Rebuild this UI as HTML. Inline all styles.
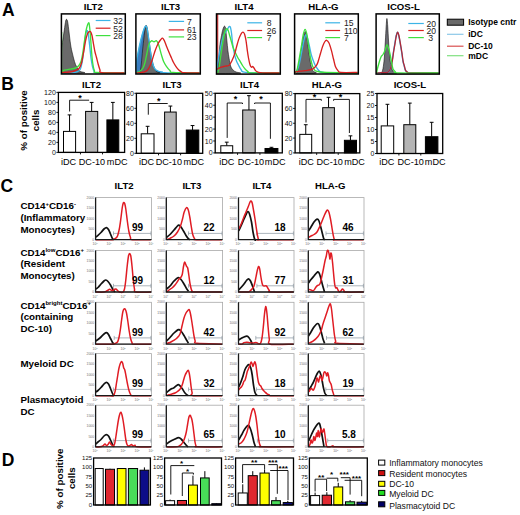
<!DOCTYPE html>
<html><head><meta charset="utf-8"><title>Figure</title>
<style>html,body{margin:0;padding:0;background:#fff;width:520px;height:515px;overflow:hidden}svg{display:block;font-family:"Liberation Sans", sans-serif}</style>
</head><body>
<svg width="520" height="515" viewBox="0 0 520 515" font-family='"Liberation Sans", sans-serif'><defs><clipPath id="clipA0"><rect x="61.4" y="13.9" width="63.9" height="60.1"/></clipPath><clipPath id="clipA1"><rect x="135.9" y="13.9" width="64.4" height="60.1"/></clipPath><clipPath id="clipA2"><rect x="216.5" y="13.9" width="63.8" height="60.2"/></clipPath><clipPath id="clipA3"><rect x="294.6" y="13.9" width="63.7" height="60.1"/></clipPath><clipPath id="clipA4"><rect x="376.1" y="13.9" width="63.2" height="60.2"/></clipPath></defs><rect width="520" height="515" fill="#fff"/><text x="2" y="15.7" font-size="17.5" font-weight="bold">A</text>
<text x="1.2" y="90.1" font-size="17.5" font-weight="bold">B</text>
<text x="0.5" y="191.6" font-size="17.5" font-weight="bold">C</text>
<text x="1.8" y="466.3" font-size="17.5" font-weight="bold">D</text>
<text x="93.3" y="9.5" font-size="9.6" font-weight="bold" text-anchor="middle">ILT2</text>
<text x="170.6" y="9.5" font-size="9.6" font-weight="bold" text-anchor="middle">ILT3</text>
<text x="244" y="9.5" font-size="9.6" font-weight="bold" text-anchor="middle">ILT4</text>
<text x="323.4" y="9.5" font-size="9.6" font-weight="bold" text-anchor="middle">HLA-G</text>
<text x="403.5" y="9.5" font-size="9.6" font-weight="bold" text-anchor="middle">ICOS-L</text>
<g clip-path="url(#clipA0)">
<path d="M61.3,73.5 C61.35,69.25 61.35,53.58 61.6,48 C61.85,42.42 62.35,43 62.8,40 C63.25,37 63.82,33.17 64.3,30 C64.78,26.83 65.3,22.77 65.7,21 C66.1,19.23 66.37,19.23 66.7,19.4 C67.03,19.57 67.32,19.9 67.7,22 C68.08,24.1 68.53,28.33 69,32 C69.47,35.67 70.03,40.83 70.5,44 C70.97,47.17 71.3,48.67 71.8,51 C72.3,53.33 72.88,55.75 73.5,58 C74.12,60.25 74.75,62.67 75.5,64.5 C76.25,66.33 77.17,67.83 78,69 C78.83,70.17 79.5,70.83 80.5,71.5 C81.5,72.17 87.2,72.67 84,73 C80.8,73.33 65.08,73.42 61.3,73.5 Z" fill="#6a6a6a" stroke="#111" stroke-width="0.6"/>
<path d="M61.5,73 C62.92,72.93 67.42,72.8 70,72.6 C72.58,72.4 75.3,72.32 77,71.8 C78.7,71.28 79.33,71.13 80.2,69.5 C81.07,67.87 81.57,65.58 82.2,62 C82.83,58.42 83.43,52.5 84,48 C84.57,43.5 85.12,37.93 85.6,35 C86.08,32.07 86.47,30.65 86.9,30.4 C87.33,30.15 87.75,31.07 88.2,33.5 C88.65,35.93 89.13,40.92 89.6,45 C90.07,49.08 90.5,54.33 91,58 C91.5,61.67 92.05,64.78 92.6,67 C93.15,69.22 93.57,70.37 94.3,71.3 C95.03,72.23 91.97,72.32 97,72.6 C102.03,72.88 119.92,72.93 124.5,73" fill="none" stroke="#3cb4e6" stroke-width="1.35" stroke-linejoin="round"/>
<path d="M61.6,32 C61.6,38.33 61.2,63.63 61.6,70 C62,76.37 62.6,70.33 64,70.2 C65.4,70.07 68.08,69.57 70,69.2 C71.92,68.83 74.13,68.48 75.5,68 C76.87,67.52 77.32,67.3 78.2,66.3 C79.08,65.3 80.03,64.22 80.8,62 C81.57,59.78 82.17,56.67 82.8,53 C83.43,49.33 84,44 84.6,40 C85.2,36 85.73,31.87 86.4,29 C87.07,26.13 88.07,23.13 88.6,22.8 C89.13,22.47 89.27,24.47 89.6,27 C89.93,29.53 90.27,33.83 90.6,38 C90.93,42.17 91.25,47.83 91.6,52 C91.95,56.17 92.23,59.9 92.7,63 C93.17,66.1 93.68,69.02 94.4,70.6 C95.12,72.18 91.98,72.1 97,72.5 C102.02,72.9 119.92,72.92 124.5,73" fill="none" stroke="#3ee03e" stroke-width="1.35" stroke-linejoin="round"/>
<path d="M62,72.5 C63.33,72.42 67.75,72.33 70,72 C72.25,71.67 74,71.08 75.5,70.5 C77,69.92 78,69.75 79,68.5 C80,67.25 80.75,65.58 81.5,63 C82.25,60.42 82.83,56.67 83.5,53 C84.17,49.33 84.85,44.17 85.5,41 C86.15,37.83 86.82,35.53 87.4,34 C87.98,32.47 88.48,32.2 89,31.8 C89.52,31.4 90,30.98 90.5,31.6 C91,32.22 91.5,33.43 92,35.5 C92.5,37.57 93,41.25 93.5,44 C94,46.75 94.5,49.75 95,52 C95.5,54.25 96,55.58 96.5,57.5 C97,59.42 97.42,61.42 98,63.5 C98.58,65.58 99.33,68.48 100,70 C100.67,71.52 97.92,72.1 102,72.6 C106.08,73.1 120.75,72.93 124.5,73" fill="none" stroke="#d82020" stroke-width="1.35" stroke-linejoin="round"/>
</g>
<rect x="61.4" y="13.9" width="63.9" height="60.1" fill="none" stroke="#000" stroke-width="1.5"/>
<path d="M95.7,20.5 H110.5" stroke="#3cb4e6" stroke-width="1.2"/>
<text x="113.2" y="23.9" font-size="8.6" fill="#222">32</text>
<path d="M95.7,28.2 H110.5" stroke="#d82020" stroke-width="1.2"/>
<text x="113.2" y="31.6" font-size="8.6" fill="#222">52</text>
<path d="M95.7,35.6 H110.5" stroke="#3ee03e" stroke-width="1.2"/>
<text x="113.2" y="39" font-size="8.6" fill="#222">28</text>
<g clip-path="url(#clipA1)">
<path d="M136.3,73.5 C136.35,71.25 136.25,63.92 136.6,60 C136.95,56.08 137.7,53.5 138.4,50 C139.1,46.5 139.98,42.33 140.8,39 C141.62,35.67 142.5,32.25 143.3,30 C144.1,27.75 144.95,25.83 145.6,25.5 C146.25,25.17 146.63,25.58 147.2,28 C147.77,30.42 148.4,35.67 149,40 C149.6,44.33 150.17,50 150.8,54 C151.43,58 152.1,61.5 152.8,64 C153.5,66.5 154.13,67.83 155,69 C155.87,70.17 156.83,70.5 158,71 C159.17,71.5 160.5,71.7 162,72 C163.5,72.3 165.67,72.55 167,72.8 C168.33,73.05 169.5,73.38 170,73.5 Z" fill="#3a7cc0" stroke="none"/>
<path d="M140,73.5 C140.22,71.92 140.87,67.92 141.3,64 C141.73,60.08 142.17,54.33 142.6,50 C143.03,45.67 143.48,41.5 143.9,38 C144.32,34.5 144.75,31.08 145.1,29 C145.45,26.92 145.65,25.67 146,25.5 C146.35,25.33 146.77,25.92 147.2,28 C147.63,30.08 148.08,34.42 148.6,38 C149.12,41.58 149.73,45.92 150.3,49.5 C150.87,53.08 151.38,56.58 152,59.5 C152.62,62.42 153.3,65.03 154,67 C154.7,68.97 155.37,70.3 156.2,71.3 C157.03,72.3 161.7,72.63 159,73 C156.3,73.37 143.17,73.42 140,73.5 Z" fill="#6a6a6a" stroke="#111" stroke-width="0.6"/>
<path d="M136.3,73 C136.35,71 136.25,64.67 136.6,61 C136.95,57.33 137.7,54.5 138.4,51 C139.1,47.5 139.98,43.33 140.8,40 C141.62,36.67 142.5,33.3 143.3,31 C144.1,28.7 144.95,26.53 145.6,26.2 C146.25,25.87 146.63,26.53 147.2,29 C147.77,31.47 148.4,36.83 149,41 C149.6,45.17 150.17,50.17 150.8,54 C151.43,57.83 152.1,61.5 152.8,64 C153.5,66.5 154.13,67.83 155,69 C155.87,70.17 156.83,70.5 158,71 C159.17,71.5 160.5,71.7 162,72 C163.5,72.3 160.75,72.63 167,72.8 C173.25,72.97 194.08,72.97 199.5,73" fill="none" stroke="#3cb4e6" stroke-width="1.35" stroke-linejoin="round"/>
<path d="M136.5,72.6 C137.08,72.37 138.92,71.97 140,71.2 C141.08,70.43 142.17,69.45 143,68 C143.83,66.55 144.33,65 145,62.5 C145.67,60 146.33,56.08 147,53 C147.67,49.92 148.25,46.03 149,44 C149.75,41.97 150.67,41.17 151.5,40.8 C152.33,40.43 153.17,41.82 154,41.8 C154.83,41.78 155.72,40.17 156.5,40.7 C157.28,41.23 157.9,42.72 158.7,45 C159.5,47.28 160.48,51.65 161.3,54.4 C162.12,57.15 162.72,59.47 163.6,61.5 C164.48,63.53 165.53,65.08 166.6,66.6 C167.67,68.12 168.87,69.62 170,70.6 C171.13,71.58 168.48,72.1 173.4,72.5 C178.32,72.9 195.15,72.92 199.5,73" fill="none" stroke="#3ee03e" stroke-width="1.35" stroke-linejoin="round"/>
<path d="M136.5,73 C137.72,72.87 141.88,72.78 143.8,72.2 C145.72,71.62 146.72,71.2 148,69.5 C149.28,67.8 150.3,65.18 151.5,62 C152.7,58.82 154.05,53.57 155.2,50.4 C156.35,47.23 157.5,44.77 158.4,43 C159.3,41.23 159.9,40.6 160.6,39.8 C161.3,39 161.95,38 162.6,38.2 C163.25,38.4 163.83,39.62 164.5,41 C165.17,42.38 165.8,44.5 166.6,46.5 C167.4,48.5 168.48,51.08 169.3,53 C170.12,54.92 170.82,56.45 171.5,58 C172.18,59.55 172.65,60.87 173.4,62.3 C174.15,63.73 175.1,65.33 176,66.6 C176.9,67.87 177.97,69.07 178.8,69.9 C179.63,70.73 180.22,71.15 181,71.6 C181.78,72.05 180.42,72.37 183.5,72.6 C186.58,72.83 196.83,72.93 199.5,73" fill="none" stroke="#d82020" stroke-width="1.35" stroke-linejoin="round"/>
</g>
<rect x="135.9" y="13.9" width="64.4" height="60.1" fill="none" stroke="#000" stroke-width="1.5"/>
<path d="M168.7,21.4 H184.1" stroke="#3cb4e6" stroke-width="1.2"/>
<text x="187" y="24.8" font-size="8.6" fill="#222">7</text>
<path d="M168.7,29.9 H184.1" stroke="#d82020" stroke-width="1.2"/>
<text x="187" y="33.3" font-size="8.6" fill="#222">61</text>
<path d="M168.7,36.9 H184.1" stroke="#3ee03e" stroke-width="1.2"/>
<text x="187" y="40.3" font-size="8.6" fill="#222">23</text>
<g clip-path="url(#clipA2)">
<path d="M217.3,73.5 C217.52,71.58 218.18,66.58 218.6,62 C219.02,57.42 219.32,50.42 219.8,46 C220.28,41.58 220.97,38.33 221.5,35.5 C222.03,32.67 222.52,30.55 223,29 C223.48,27.45 223.97,26.28 224.4,26.2 C224.83,26.12 225.2,26.2 225.6,28.5 C226,30.8 226.42,36.33 226.8,40 C227.18,43.67 227.52,47.42 227.9,50.5 C228.28,53.58 228.65,55.92 229.1,58.5 C229.55,61.08 229.95,64.08 230.6,66 C231.25,67.92 232.1,69 233,70 C233.9,71 234.83,71.45 236,72 C237.17,72.55 243.12,73.05 240,73.3 C236.88,73.55 221.08,73.47 217.3,73.5 Z" fill="#6a6a6a" stroke="#111" stroke-width="0.6"/>
<path d="M217.7,14 V73.5" stroke="#d82020" stroke-width="1.1"/>
<path d="M217.2,73 C217.22,71.83 217,68.92 217.3,66 C217.6,63.08 218.38,58.92 219,55.5 C219.62,52.08 220.33,48.58 221,45.5 C221.67,42.42 222.33,39.08 223,37 C223.67,34.92 224.33,34.13 225,33 C225.67,31.87 226.4,31.17 227,30.2 C227.6,29.23 228.07,27.77 228.6,27.2 C229.13,26.63 229.72,25.83 230.2,26.8 C230.68,27.77 231.1,30.22 231.5,33 C231.9,35.78 232.1,39.93 232.6,43.5 C233.1,47.07 233.85,51.48 234.5,54.4 C235.15,57.32 235.82,59.2 236.5,61 C237.18,62.8 237.85,63.78 238.6,65.2 C239.35,66.62 240.1,68.33 241,69.5 C241.9,70.67 240.83,71.62 244,72.2 C247.17,72.78 254.08,72.87 260,73 C265.92,73.13 276.25,73 279.5,73" fill="none" stroke="#3cb4e6" stroke-width="1.35" stroke-linejoin="round"/>
<path d="M217.6,73 C217.83,72.17 218.45,71 219,68 C219.55,65 220.25,59.33 220.9,55 C221.55,50.67 222.25,45.83 222.9,42 C223.55,38.17 224.2,34.2 224.8,32 C225.4,29.8 225.97,29.13 226.5,28.8 C227.03,28.47 227.5,28.97 228,30 C228.5,31.03 228.98,33.25 229.5,35 C230.02,36.75 230.48,38.38 231.1,40.5 C231.72,42.62 232.38,45.45 233.2,47.7 C234.02,49.95 235.2,52.28 236,54 C236.8,55.72 237.33,56.82 238,58 C238.67,59.18 239.25,59.85 240,61.1 C240.75,62.35 241.62,64.15 242.5,65.5 C243.38,66.85 244.38,68.2 245.3,69.2 C246.22,70.2 247.1,70.9 248,71.5 C248.9,72.1 245.45,72.55 250.7,72.8 C255.95,73.05 274.7,72.97 279.5,73" fill="none" stroke="#3ee03e" stroke-width="1.35" stroke-linejoin="round"/>
<path d="M217.2,69.3 C217.67,69.02 218.7,68.12 220,67.6 C221.3,67.08 223.47,66.6 225,66.2 C226.53,65.8 228.03,66.15 229.2,65.2 C230.37,64.25 231.12,62.3 232,60.5 C232.88,58.7 233.75,56.65 234.5,54.4 C235.25,52.15 235.82,49.47 236.5,47 C237.18,44.53 237.95,41.57 238.6,39.6 C239.25,37.63 239.83,36.37 240.4,35.2 C240.97,34.03 241.52,33.1 242,32.6 C242.48,32.1 242.87,31.93 243.3,32.2 C243.73,32.47 244.15,32.82 244.6,34.2 C245.05,35.58 245.55,37.8 246,40.5 C246.45,43.2 246.88,47.48 247.3,50.4 C247.72,53.32 248.05,55.6 248.5,58 C248.95,60.4 249.52,63.25 250,64.8 C250.48,66.35 250.95,67.02 251.4,67.3 C251.85,67.58 252.27,66.38 252.7,66.5 C253.13,66.62 253.52,67.32 254,68 C254.48,68.68 255.03,69.95 255.6,70.6 C256.17,71.25 256.67,71.57 257.4,71.9 C258.13,72.23 258.73,72.42 260,72.6 C261.27,72.78 261.75,72.93 265,73 C268.25,73.07 277.08,73 279.5,73" fill="none" stroke="#d82020" stroke-width="1.35" stroke-linejoin="round"/>
</g>
<rect x="216.5" y="13.9" width="63.8" height="60.2" fill="none" stroke="#000" stroke-width="1.5"/>
<path d="M247.3,22.8 H262.1" stroke="#3cb4e6" stroke-width="1.2"/>
<text x="266.8" y="26.2" font-size="8.6" fill="#222">8</text>
<path d="M247.3,30.5 H262.1" stroke="#d82020" stroke-width="1.2"/>
<text x="266.8" y="33.9" font-size="8.6" fill="#222">26</text>
<path d="M247.3,37.6 H262.1" stroke="#3ee03e" stroke-width="1.2"/>
<text x="266.8" y="41" font-size="8.6" fill="#222">7</text>
<g clip-path="url(#clipA3)">
<path d="M296,73.5 C296.28,72.92 297.07,72.5 297.7,70 C298.33,67.5 299.12,62.42 299.8,58.5 C300.48,54.58 301.18,50.08 301.8,46.5 C302.42,42.92 302.95,39.5 303.5,37 C304.05,34.5 304.58,31.75 305.1,31.5 C305.62,31.25 306.1,33 306.6,35.5 C307.1,38 307.6,42.83 308.1,46.5 C308.6,50.17 309.08,54.2 309.6,57.5 C310.12,60.8 310.63,64.05 311.2,66.3 C311.77,68.55 312.28,69.85 313,71 C313.72,72.15 318.33,72.78 315.5,73.2 C312.67,73.62 299.25,73.45 296,73.5 Z" fill="#6a6a6a" stroke="#111" stroke-width="0.6"/>
<path d="M295.2,72.5 C295.5,72.25 296.28,72.58 297,71 C297.72,69.42 298.67,66.5 299.5,63 C300.33,59.5 301.25,53.83 302,50 C302.75,46.17 303.37,42.52 304,40 C304.63,37.48 305.22,35.23 305.8,34.9 C306.38,34.57 306.88,36.07 307.5,38 C308.12,39.93 308.88,43.77 309.5,46.5 C310.12,49.23 310.58,52.07 311.2,54.4 C311.82,56.73 312.53,58.7 313.2,60.5 C313.87,62.3 314.47,63.78 315.2,65.2 C315.93,66.62 316.7,67.87 317.6,69 C318.5,70.13 318.53,71.33 320.6,72 C322.67,72.67 323.83,72.83 330,73 C336.17,73.17 353,73 357.6,73" fill="none" stroke="#3cb4e6" stroke-width="1.35" stroke-linejoin="round"/>
<path d="M295.2,72.8 C295.5,72.33 296.37,72.13 297,70 C297.63,67.87 298.27,64 299,60 C299.73,56 300.67,50.33 301.4,46 C302.13,41.67 302.78,36.77 303.4,34 C304.02,31.23 304.53,29.4 305.1,29.4 C305.67,29.4 306.23,31.4 306.8,34 C307.37,36.6 307.88,41 308.5,45 C309.12,49 309.83,54.5 310.5,58 C311.17,61.5 311.75,63.92 312.5,66 C313.25,68.08 313.75,69.5 315,70.5 C316.25,71.5 315.83,71.62 320,72 C324.17,72.38 333.73,72.63 340,72.8 C346.27,72.97 354.67,72.97 357.6,73" fill="none" stroke="#3ee03e" stroke-width="1.35" stroke-linejoin="round"/>
<path d="M295.2,72.4 C295.5,72.27 295.37,71.9 297,71.6 C298.63,71.3 302.42,71 305,70.6 C307.58,70.2 310.57,70.1 312.5,69.2 C314.43,68.3 315.58,66.73 316.6,65.2 C317.62,63.67 317.93,62.03 318.6,60 C319.27,57.97 319.93,55.25 320.6,53 C321.27,50.75 321.93,48.33 322.6,46.5 C323.27,44.67 323.92,43.03 324.6,42 C325.28,40.97 325.97,40.13 326.7,40.3 C327.43,40.47 328.22,41.32 329,43 C329.78,44.68 330.65,47.73 331.4,50.4 C332.15,53.07 332.83,56.32 333.5,59 C334.17,61.68 334.65,64.57 335.4,66.5 C336.15,68.43 337.1,69.6 338,70.6 C338.9,71.6 337.53,72.18 340.8,72.5 C344.07,72.82 354.8,72.5 357.6,72.5" fill="none" stroke="#d82020" stroke-width="1.35" stroke-linejoin="round"/>
</g>
<rect x="294.6" y="13.9" width="63.7" height="60.1" fill="none" stroke="#000" stroke-width="1.5"/>
<path d="M325.3,22.8 H340.1" stroke="#3cb4e6" stroke-width="1.2"/>
<text x="343.9" y="26.2" font-size="8.6" fill="#222">15</text>
<path d="M325.3,30.5 H340.1" stroke="#d82020" stroke-width="1.2"/>
<text x="343.9" y="33.9" font-size="8.6" fill="#222">110</text>
<path d="M325.3,37.6 H340.1" stroke="#3ee03e" stroke-width="1.2"/>
<text x="343.9" y="41" font-size="8.6" fill="#222">7</text>
<g clip-path="url(#clipA4)">
<path d="M381.5,73.5 C381.75,72.67 382.53,71.08 383,68.5 C383.47,65.92 383.92,62.42 384.3,58 C384.68,53.58 384.98,47.33 385.3,42 C385.62,36.67 385.93,29.92 386.2,26 C386.47,22.08 386.65,18.5 386.9,18.5 C387.15,18.5 387.42,22.08 387.7,26 C387.98,29.92 388.28,37 388.6,42 C388.92,47 389.23,52.25 389.6,56 C389.97,59.75 390.37,62.25 390.8,64.5 C391.23,66.75 391.67,68.17 392.2,69.5 C392.73,70.83 393.37,71.83 394,72.5 C394.63,73.17 398.08,73.33 396,73.5 C393.92,73.67 383.92,73.5 381.5,73.5 Z" fill="#6c6c74" stroke="#111" stroke-width="0.6"/>
<path d="M376.7,73 C377.42,72.93 379.12,72.75 381,72.6 C382.88,72.45 386.42,72.83 388,72.1 C389.58,71.37 389.82,70.02 390.5,68.2 C391.18,66.38 391.62,63.9 392.1,61.2 C392.58,58.5 392.95,54.93 393.4,52 C393.85,49.07 394.35,46.27 394.8,43.6 C395.25,40.93 395.65,37.9 396.1,36 C396.55,34.1 397.05,32.2 397.5,32.2 C397.95,32.2 398.35,34.1 398.8,36 C399.25,37.9 399.73,40.93 400.2,43.6 C400.67,46.27 401.15,49.08 401.6,52 C402.05,54.92 402.47,58.77 402.9,61.1 C403.33,63.43 403.77,64.42 404.2,66 C404.63,67.58 404.87,69.52 405.5,70.6 C406.13,71.68 407.25,72.1 408,72.5 C408.75,72.9 404.9,72.92 410,73 C415.1,73.08 433.83,73 438.6,73" fill="none" stroke="#3cb4e6" stroke-width="1.35" stroke-linejoin="round"/>
<path d="M376.7,73 C377.42,72.93 379.12,72.75 381,72.6 C382.88,72.45 386.4,72.87 388,72.1 C389.6,71.33 389.88,69.83 390.6,68 C391.32,66.17 391.8,63.77 392.3,61.1 C392.8,58.43 393.15,54.92 393.6,52 C394.05,49.08 394.55,46.27 395,43.6 C395.45,40.93 395.85,37.9 396.3,36 C396.75,34.1 397.25,32.2 397.7,32.2 C398.15,32.2 398.55,34.1 399,36 C399.45,37.9 399.93,40.93 400.4,43.6 C400.87,46.27 401.35,49.08 401.8,52 C402.25,54.92 402.67,58.77 403.1,61.1 C403.53,63.43 403.97,64.42 404.4,66 C404.83,67.58 405.1,69.52 405.7,70.6 C406.3,71.68 407.28,72.1 408,72.5 C408.72,72.9 404.9,72.92 410,73 C415.1,73.08 433.83,73 438.6,73" fill="none" stroke="#b02838" stroke-width="1.35" stroke-linejoin="round"/>
<path d="M376.7,73 C376.75,72.6 376.62,72.27 377,70.6 C377.38,68.93 378.33,65.27 379,63 C379.67,60.73 380.33,58.42 381,57 C381.67,55.58 382.3,55.67 383,54.5 C383.7,53.33 384.53,51.63 385.2,50 C385.87,48.37 386.33,44.62 387,44.7 C387.67,44.78 388.6,48.45 389.2,50.5 C389.8,52.55 390.17,54.92 390.6,57 C391.03,59.08 391.4,61 391.8,63 C392.2,65 392.38,67.5 393,69 C393.62,70.5 394.67,71.33 395.5,72 C396.33,72.67 390.82,72.83 398,73 C405.18,73.17 431.83,73 438.6,73" fill="none" stroke="#3ee03e" stroke-width="1.35" stroke-linejoin="round"/>
</g>
<rect x="376.1" y="13.9" width="63.2" height="60.2" fill="none" stroke="#000" stroke-width="1.5"/>
<path d="M408.3,23.5 H423.8" stroke="#3cb4e6" stroke-width="1.2"/>
<text x="436" y="26.9" font-size="8.6" text-anchor="end" fill="#222">20</text>
<path d="M408.3,30.5 H423.8" stroke="#d82020" stroke-width="1.2"/>
<text x="436" y="33.9" font-size="8.6" text-anchor="end" fill="#222">20</text>
<path d="M408.3,37.6 H423.8" stroke="#3ee03e" stroke-width="1.2"/>
<text x="428.3" y="41.2" font-size="8.8" fill="#222">3</text>
<rect x="447.3" y="19.2" width="16.3" height="6" fill="#6a6a6a" stroke="#000" stroke-width="1"/>
<text x="468.2" y="24.8" font-size="8.5" font-weight="bold">Isotype cntr</text>
<path d="M447,34.3 H463.5" stroke="#8cc8e8" stroke-width="1.2"/>
<text x="468.2" y="37" font-size="8.5" font-weight="bold">iDC</text>
<path d="M447,46.2 H463.5" stroke="#d85050" stroke-width="1.2"/>
<text x="468.2" y="49" font-size="8.5" font-weight="bold">DC-10</text>
<path d="M447,55.7 H463.5" stroke="#80e080" stroke-width="1.2"/>
<text x="468.2" y="59.3" font-size="8.5" font-weight="bold">mDC</text>
<path d="M69.55,131.4 V114.9 M67.65,114.9 H71.45" stroke="#000" stroke-width="1"/>
<rect x="63.5" y="131.4" width="12.1" height="21" fill="#fff" stroke="#000" stroke-width="1"/>
<path d="M91.65,111.4 V102.4 M89.75,102.4 H93.55" stroke="#000" stroke-width="1"/>
<rect x="85.6" y="111.4" width="12.1" height="41" fill="#b4b4b4" stroke="#000" stroke-width="1"/>
<path d="M112.85,119.9 V102.4 M110.95,102.4 H114.75" stroke="#000" stroke-width="1"/>
<rect x="106.9" y="119.9" width="11.9" height="32.5" fill="#000" stroke="#000" stroke-width="1"/>
<rect x="58.4" y="92.4" width="66.2" height="60" fill="none" stroke="#000" stroke-width="1.3"/>
<path d="M56.4,152.4 H58.4" stroke="#000" stroke-width="0.9"/>
<text x="55.8" y="154.92" font-size="7" text-anchor="end" fill="#111">0</text>
<path d="M56.4,142.4 H58.4" stroke="#000" stroke-width="0.9"/>
<text x="55.8" y="144.92" font-size="7" text-anchor="end" fill="#111">20</text>
<path d="M56.4,132.4 H58.4" stroke="#000" stroke-width="0.9"/>
<text x="55.8" y="134.92" font-size="7" text-anchor="end" fill="#111">40</text>
<path d="M56.4,122.4 H58.4" stroke="#000" stroke-width="0.9"/>
<text x="55.8" y="124.92" font-size="7" text-anchor="end" fill="#111">60</text>
<path d="M56.4,112.4 H58.4" stroke="#000" stroke-width="0.9"/>
<text x="55.8" y="114.92" font-size="7" text-anchor="end" fill="#111">80</text>
<path d="M56.4,102.4 H58.4" stroke="#000" stroke-width="0.9"/>
<text x="55.8" y="104.92" font-size="7" text-anchor="end" fill="#111">100</text>
<path d="M56.4,92.4 H58.4" stroke="#000" stroke-width="0.9"/>
<text x="55.8" y="94.92" font-size="7" text-anchor="end" fill="#111">120</text>
<text x="91.5" y="88.2" font-size="9.6" font-weight="bold" text-anchor="middle">ILT2</text>
<path d="M69.6,111.5 V100.2 H89.1" fill="none" stroke="#000" stroke-width="0.9"/>
<text x="80" y="101.1" font-size="9" font-weight="bold" text-anchor="middle">*</text>
<path d="M80.47,152.4 V154.4" stroke="#000" stroke-width="0.9"/>
<path d="M102.53,152.4 V154.4" stroke="#000" stroke-width="0.9"/>
<text x="68.5" y="165.2" font-size="9.1" text-anchor="middle">iDC</text>
<text x="91.9" y="165.2" font-size="9.1" text-anchor="middle">DC-10</text>
<text x="117.2" y="165.2" font-size="9.1" text-anchor="middle">mDC</text>
<path d="M147.6,133.8 V126.3 M145.7,126.3 H149.5" stroke="#000" stroke-width="1"/>
<rect x="141.2" y="133.8" width="12.8" height="19.5" fill="#fff" stroke="#000" stroke-width="1"/>
<path d="M170.4,112.05 V106.05 M168.5,106.05 H172.3" stroke="#000" stroke-width="1"/>
<rect x="164.6" y="112.05" width="11.6" height="41.25" fill="#b4b4b4" stroke="#000" stroke-width="1"/>
<path d="M192.55,130.05 V125.55 M190.65,125.55 H194.45" stroke="#000" stroke-width="1"/>
<rect x="186.3" y="130.05" width="12.5" height="23.25" fill="#000" stroke="#000" stroke-width="1"/>
<rect x="136.4" y="93.3" width="66.3" height="60" fill="none" stroke="#000" stroke-width="1.3"/>
<path d="M134.4,153.3 H136.4" stroke="#000" stroke-width="0.9"/>
<text x="133.8" y="155.82" font-size="7" text-anchor="end" fill="#111">0</text>
<path d="M134.4,138.3 H136.4" stroke="#000" stroke-width="0.9"/>
<text x="133.8" y="140.82" font-size="7" text-anchor="end" fill="#111">20</text>
<path d="M134.4,123.3 H136.4" stroke="#000" stroke-width="0.9"/>
<text x="133.8" y="125.82" font-size="7" text-anchor="end" fill="#111">40</text>
<path d="M134.4,108.3 H136.4" stroke="#000" stroke-width="0.9"/>
<text x="133.8" y="110.82" font-size="7" text-anchor="end" fill="#111">60</text>
<path d="M134.4,93.3 H136.4" stroke="#000" stroke-width="0.9"/>
<text x="133.8" y="95.82" font-size="7" text-anchor="end" fill="#111">80</text>
<text x="172.1" y="88.2" font-size="9.6" font-weight="bold" text-anchor="middle">ILT3</text>
<path d="M148.3,114.7 V103.5 H167.7" fill="none" stroke="#000" stroke-width="0.9"/>
<text x="158.8" y="104.3" font-size="9" font-weight="bold" text-anchor="middle">*</text>
<path d="M158.5,153.3 V155.3" stroke="#000" stroke-width="0.9"/>
<path d="M180.6,153.3 V155.3" stroke="#000" stroke-width="0.9"/>
<text x="146.5" y="165.2" font-size="9.1" text-anchor="middle">iDC</text>
<text x="168.8" y="165.2" font-size="9.1" text-anchor="middle">DC-10</text>
<text x="193.8" y="165.2" font-size="9.1" text-anchor="middle">mDC</text>
<path d="M226.75,145.75 V142.17 M224.85,142.17 H228.65" stroke="#000" stroke-width="1"/>
<rect x="220.8" y="145.75" width="11.9" height="7.15" fill="#fff" stroke="#000" stroke-width="1"/>
<path d="M248.95,109.99 V95.68 M247.05,95.68 H250.85" stroke="#000" stroke-width="1"/>
<rect x="242.7" y="109.99" width="12.5" height="42.91" fill="#b4b4b4" stroke="#000" stroke-width="1"/>
<path d="M271.45,148.49 V147.3 M269.55,147.3 H273.35" stroke="#000" stroke-width="1"/>
<rect x="265" y="148.49" width="12.9" height="4.41" fill="#000" stroke="#000" stroke-width="1"/>
<rect x="215.2" y="93.3" width="67.1" height="59.6" fill="none" stroke="#000" stroke-width="1.3"/>
<path d="M213.2,152.9 H215.2" stroke="#000" stroke-width="0.9"/>
<text x="212.6" y="155.42" font-size="7" text-anchor="end" fill="#111">0</text>
<path d="M213.2,140.98 H215.2" stroke="#000" stroke-width="0.9"/>
<text x="212.6" y="143.5" font-size="7" text-anchor="end" fill="#111">10</text>
<path d="M213.2,129.06 H215.2" stroke="#000" stroke-width="0.9"/>
<text x="212.6" y="131.58" font-size="7" text-anchor="end" fill="#111">20</text>
<path d="M213.2,117.14 H215.2" stroke="#000" stroke-width="0.9"/>
<text x="212.6" y="119.66" font-size="7" text-anchor="end" fill="#111">30</text>
<path d="M213.2,105.22 H215.2" stroke="#000" stroke-width="0.9"/>
<text x="212.6" y="107.74" font-size="7" text-anchor="end" fill="#111">40</text>
<path d="M213.2,93.3 H215.2" stroke="#000" stroke-width="0.9"/>
<text x="212.6" y="95.82" font-size="7" text-anchor="end" fill="#111">50</text>
<text x="249.5" y="88.2" font-size="9.6" font-weight="bold" text-anchor="middle">ILT4</text>
<path d="M227.2,137.9 V103 H242.5 V104" fill="none" stroke="#000" stroke-width="0.9"/>
<text x="235.6" y="102.4" font-size="9" font-weight="bold" text-anchor="middle">*</text>
<path d="M254.6,104 V103 H270.4 V138.8" fill="none" stroke="#000" stroke-width="0.9"/>
<text x="261" y="102.4" font-size="9" font-weight="bold" text-anchor="middle">*</text>
<path d="M237.57,152.9 V154.9" stroke="#000" stroke-width="0.9"/>
<path d="M259.93,152.9 V154.9" stroke="#000" stroke-width="0.9"/>
<text x="226.8" y="165.2" font-size="9.1" text-anchor="middle">iDC</text>
<text x="251" y="165.2" font-size="9.1" text-anchor="middle">DC-10</text>
<text x="275.2" y="165.2" font-size="9.1" text-anchor="middle">mDC</text>
<path d="M305.75,134.37 V124.73 M303.85,124.73 H307.65" stroke="#000" stroke-width="1"/>
<rect x="299.8" y="134.37" width="11.9" height="18.53" fill="#fff" stroke="#000" stroke-width="1"/>
<path d="M328.55,107.68 V97.31 M326.65,97.31 H330.45" stroke="#000" stroke-width="1"/>
<rect x="322.7" y="107.68" width="11.7" height="45.22" fill="#b4b4b4" stroke="#000" stroke-width="1"/>
<path d="M350.45,140.3 V135.85 M348.55,135.85 H352.35" stroke="#000" stroke-width="1"/>
<rect x="344.4" y="140.3" width="12.1" height="12.6" fill="#000" stroke="#000" stroke-width="1"/>
<rect x="295.1" y="93.6" width="64.7" height="59.3" fill="none" stroke="#000" stroke-width="1.3"/>
<path d="M293.1,152.9 H295.1" stroke="#000" stroke-width="0.9"/>
<text x="292.5" y="155.42" font-size="7" text-anchor="end" fill="#111">0</text>
<path d="M293.1,138.07 H295.1" stroke="#000" stroke-width="0.9"/>
<text x="292.5" y="140.59" font-size="7" text-anchor="end" fill="#111">20</text>
<path d="M293.1,123.25 H295.1" stroke="#000" stroke-width="0.9"/>
<text x="292.5" y="125.77" font-size="7" text-anchor="end" fill="#111">40</text>
<path d="M293.1,108.42 H295.1" stroke="#000" stroke-width="0.9"/>
<text x="292.5" y="110.94" font-size="7" text-anchor="end" fill="#111">60</text>
<path d="M293.1,93.6 H295.1" stroke="#000" stroke-width="0.9"/>
<text x="292.5" y="96.12" font-size="7" text-anchor="end" fill="#111">80</text>
<text x="326.9" y="88.2" font-size="9.6" font-weight="bold" text-anchor="middle">HLA-G</text>
<path d="M306,122.5 V99.4 H321.3 V100.8" fill="none" stroke="#000" stroke-width="0.9"/>
<text x="314.4" y="99.8" font-size="9" font-weight="bold" text-anchor="middle">*</text>
<path d="M333.6,100.8 V99.4 H349.4 V133" fill="none" stroke="#000" stroke-width="0.9"/>
<text x="340.4" y="99.8" font-size="9" font-weight="bold" text-anchor="middle">*</text>
<path d="M316.67,152.9 V154.9" stroke="#000" stroke-width="0.9"/>
<path d="M338.23,152.9 V154.9" stroke="#000" stroke-width="0.9"/>
<text x="306.3" y="165.2" font-size="9.1" text-anchor="middle">iDC</text>
<text x="329.7" y="165.2" font-size="9.1" text-anchor="middle">DC-10</text>
<text x="354.5" y="165.2" font-size="9.1" text-anchor="middle">mDC</text>
<path d="M387.45,125.9 V104.3 M385.55,104.3 H389.35" stroke="#000" stroke-width="1"/>
<rect x="381.2" y="125.9" width="12.5" height="27.6" fill="#fff" stroke="#000" stroke-width="1"/>
<path d="M409.8,124.7 V103.1 M407.9,103.1 H411.7" stroke="#000" stroke-width="1"/>
<rect x="403.8" y="124.7" width="12" height="28.8" fill="#b4b4b4" stroke="#000" stroke-width="1"/>
<path d="M431.65,136.7 V122.3 M429.75,122.3 H433.55" stroke="#000" stroke-width="1"/>
<rect x="425.4" y="136.7" width="12.5" height="16.8" fill="#000" stroke="#000" stroke-width="1"/>
<rect x="377" y="93.5" width="65.7" height="60" fill="none" stroke="#000" stroke-width="1.3"/>
<path d="M375,153.5 H377" stroke="#000" stroke-width="0.9"/>
<text x="374.4" y="156.02" font-size="7" text-anchor="end" fill="#111">0</text>
<path d="M375,141.5 H377" stroke="#000" stroke-width="0.9"/>
<text x="374.4" y="144.02" font-size="7" text-anchor="end" fill="#111">5</text>
<path d="M375,129.5 H377" stroke="#000" stroke-width="0.9"/>
<text x="374.4" y="132.02" font-size="7" text-anchor="end" fill="#111">10</text>
<path d="M375,117.5 H377" stroke="#000" stroke-width="0.9"/>
<text x="374.4" y="120.02" font-size="7" text-anchor="end" fill="#111">15</text>
<path d="M375,105.5 H377" stroke="#000" stroke-width="0.9"/>
<text x="374.4" y="108.02" font-size="7" text-anchor="end" fill="#111">20</text>
<path d="M375,93.5 H377" stroke="#000" stroke-width="0.9"/>
<text x="374.4" y="96.02" font-size="7" text-anchor="end" fill="#111">25</text>
<text x="409.9" y="88.2" font-size="9.6" font-weight="bold" text-anchor="middle">ICOS-L</text>
<path d="M398.9,153.5 V155.5" stroke="#000" stroke-width="0.9"/>
<path d="M420.8,153.5 V155.5" stroke="#000" stroke-width="0.9"/>
<text x="386.8" y="165.2" font-size="9.1" text-anchor="middle">iDC</text>
<text x="410.7" y="165.2" font-size="9.1" text-anchor="middle">DC-10</text>
<text x="435.2" y="165.2" font-size="9.1" text-anchor="middle">mDC</text>
<text transform="translate(27.4,120.5) rotate(-90)" font-size="9.8" font-weight="bold" text-anchor="middle">% of positive</text>
<text transform="translate(39.0,120.4) rotate(-90)" font-size="9.8" font-weight="bold" text-anchor="middle">cells</text>
<text x="124.1" y="189.2" font-size="9.6" font-weight="bold" text-anchor="middle">ILT2</text>
<text x="191.9" y="189.2" font-size="9.6" font-weight="bold" text-anchor="middle">ILT3</text>
<text x="261.9" y="189.2" font-size="9.6" font-weight="bold" text-anchor="middle">ILT4</text>
<text x="330.2" y="189.2" font-size="9.6" font-weight="bold" text-anchor="middle">HLA-G</text>
<text x="20.4" y="209.4" font-size="9.8" font-weight="bold">CD14<tspan font-size="6" dy="-3.6">+</tspan><tspan dy="3.6">CD16</tspan><tspan font-size="6" dy="-3.6">-</tspan></text>
<text x="20.4" y="221" font-size="9.8" font-weight="bold">(Inflammatory</text>
<text x="20.4" y="232.6" font-size="9.8" font-weight="bold">Monocytes)</text>
<text x="20.4" y="255.7" font-size="9.8" font-weight="bold">CD14<tspan font-size="6" dy="-3.6">low</tspan><tspan dy="3.6">CD16</tspan><tspan font-size="6" dy="-3.6">+</tspan></text>
<text x="20.4" y="267.3" font-size="9.8" font-weight="bold">(Resident</text>
<text x="20.4" y="278.6" font-size="9.8" font-weight="bold">Monocytes)</text>
<text x="20.4" y="308.5" font-size="9.8" font-weight="bold">CD14<tspan font-size="6" dy="-3.6">bright</tspan><tspan dy="3.6">CD16</tspan><tspan font-size="6" dy="-3.6">+</tspan></text>
<text x="20.4" y="320.3" font-size="9.8" font-weight="bold">(containing</text>
<text x="20.4" y="331.6" font-size="9.8" font-weight="bold">DC-10)</text>
<text x="20.4" y="366.7" font-size="9.8" font-weight="bold">Myeloid DC</text>
<text x="20.4" y="402.9" font-size="9.8" font-weight="bold">Plasmacytoid</text>
<text x="20.4" y="414.5" font-size="9.8" font-weight="bold">DC</text>
<rect x="95.6" y="197.6" width="55.9" height="42" fill="none" stroke="#a8a8a8" stroke-width="0.8"/>
<path d="M113.5,233.4 H150.9 M113.5,231.4 V235.4 M150.9,231.4 V235.4" stroke="#8a96a0" stroke-width="0.7" fill="none"/>
<path d="M95.8,237 C96.17,236.72 97.13,236.05 98,235.3 C98.87,234.55 100,233.55 101,232.5 C102,231.45 103.08,229.82 104,229 C104.92,228.18 105.75,227.52 106.5,227.6 C107.25,227.68 107.83,228.43 108.5,229.5 C109.17,230.57 109.83,232.48 110.5,234 C111.17,235.52 111.92,237.66 112.5,238.6 C113.08,239.54 113.75,239.47 114,239.65" fill="none" stroke="#111" stroke-width="1.7" stroke-linejoin="round"/>
<path d="M95.8,239.65 C97.83,239.65 105.22,239.65 108,239.65 C110.78,239.65 111.25,239.86 112.5,239.65 C113.75,239.44 114.67,239.01 115.5,238.4 C116.33,237.79 116.87,237.57 117.5,236 C118.13,234.43 118.75,231.83 119.3,229 C119.85,226.17 120.32,222.5 120.8,219 C121.28,215.5 121.8,210.62 122.2,208 C122.6,205.38 122.92,204.22 123.2,203.3 C123.48,202.38 123.65,202.47 123.9,202.5 C124.15,202.53 124.38,202.42 124.7,203.5 C125.02,204.58 125.38,206.25 125.8,209 C126.22,211.75 126.7,216.33 127.2,220 C127.7,223.67 128.25,228.08 128.8,231 C129.35,233.92 129.88,236.06 130.5,237.5 C131.12,238.94 129.12,239.29 132.5,239.65 C135.88,240.01 147.75,239.65 150.8,239.65" fill="none" stroke="#e01c24" stroke-width="1.5" stroke-linejoin="round"/>
<path d="M95.6,197.6 V239.6 H151.5" fill="none" stroke="#1a1a1a" stroke-width="1.3"/>
<text x="143.1" y="231.1" font-size="10" font-weight="bold" text-anchor="end">99</text>
<text x="95.1" y="245.2" font-size="3.4" fill="#707070" text-anchor="middle">10<tspan font-size="2.2" dy="-1.2">0</tspan></text>
<text x="109.07" y="245.2" font-size="3.4" fill="#707070" text-anchor="middle">10<tspan font-size="2.2" dy="-1.2">1</tspan></text>
<text x="123.05" y="245.2" font-size="3.4" fill="#707070" text-anchor="middle">10<tspan font-size="2.2" dy="-1.2">2</tspan></text>
<text x="137.03" y="245.2" font-size="3.4" fill="#707070" text-anchor="middle">10<tspan font-size="2.2" dy="-1.2">3</tspan></text>
<text x="151" y="245.2" font-size="3.4" fill="#707070" text-anchor="middle">10<tspan font-size="2.2" dy="-1.2">4</tspan></text>
<text x="94.1" y="240.7" font-size="3.4" fill="#707070" text-anchor="end">0</text>
<text x="94.1" y="230.2" font-size="3.4" fill="#707070" text-anchor="end">500</text>
<text x="94.1" y="219.7" font-size="3.4" fill="#707070" text-anchor="end">1000</text>
<text x="94.1" y="209.2" font-size="3.4" fill="#707070" text-anchor="end">1500</text>
<text x="94.1" y="198.7" font-size="3.4" fill="#707070" text-anchor="end">2000</text>
<rect x="166.3" y="197.6" width="56.3" height="42" fill="none" stroke="#a8a8a8" stroke-width="0.8"/>
<path d="M188.5,233.4 H222 M188.5,231.4 V235.4 M222,231.4 V235.4" stroke="#8a96a0" stroke-width="0.7" fill="none"/>
<path d="M166.5,237.5 C167.08,237 168.75,235.75 170,234.5 C171.25,233.25 172.83,231.33 174,230 C175.17,228.67 176.2,227.3 177,226.5 C177.8,225.7 178.13,225.12 178.8,225.2 C179.47,225.28 180.22,226.03 181,227 C181.78,227.97 182.67,229.58 183.5,231 C184.33,232.42 185.17,234.2 186,235.5 C186.83,236.8 187.83,238.11 188.5,238.8 C189.17,239.49 189.75,239.51 190,239.65" fill="none" stroke="#111" stroke-width="1.7" stroke-linejoin="round"/>
<path d="M166.5,239.65 C167.08,239.43 168.75,238.91 170,238.3 C171.25,237.69 172.75,237.05 174,236 C175.25,234.95 176.42,233.67 177.5,232 C178.58,230.33 179.67,228.17 180.5,226 C181.33,223.83 181.88,221.33 182.5,219 C183.12,216.67 183.53,213.88 184.2,212 C184.87,210.12 185.82,208.03 186.5,207.7 C187.18,207.37 187.75,208.45 188.3,210 C188.85,211.55 189.32,214.33 189.8,217 C190.28,219.67 190.73,223.17 191.2,226 C191.67,228.83 192.05,231.9 192.6,234 C193.15,236.1 193.85,237.66 194.5,238.6 C195.15,239.54 191.92,239.47 196.5,239.65 C201.08,239.83 217.75,239.65 222,239.65" fill="none" stroke="#e01c24" stroke-width="1.5" stroke-linejoin="round"/>
<path d="M166.3,197.6 V239.6 H222.6" fill="none" stroke="#1a1a1a" stroke-width="1.3"/>
<text x="214.5" y="231.1" font-size="10" font-weight="bold" text-anchor="end">22</text>
<text x="165.8" y="245.2" font-size="3.4" fill="#707070" text-anchor="middle">10<tspan font-size="2.2" dy="-1.2">0</tspan></text>
<text x="179.88" y="245.2" font-size="3.4" fill="#707070" text-anchor="middle">10<tspan font-size="2.2" dy="-1.2">1</tspan></text>
<text x="193.95" y="245.2" font-size="3.4" fill="#707070" text-anchor="middle">10<tspan font-size="2.2" dy="-1.2">2</tspan></text>
<text x="208.03" y="245.2" font-size="3.4" fill="#707070" text-anchor="middle">10<tspan font-size="2.2" dy="-1.2">3</tspan></text>
<text x="222.1" y="245.2" font-size="3.4" fill="#707070" text-anchor="middle">10<tspan font-size="2.2" dy="-1.2">4</tspan></text>
<text x="164.8" y="240.7" font-size="3.4" fill="#707070" text-anchor="end">0</text>
<text x="164.8" y="230.2" font-size="3.4" fill="#707070" text-anchor="end">500</text>
<text x="164.8" y="219.7" font-size="3.4" fill="#707070" text-anchor="end">1000</text>
<text x="164.8" y="209.2" font-size="3.4" fill="#707070" text-anchor="end">1500</text>
<text x="164.8" y="198.7" font-size="3.4" fill="#707070" text-anchor="end">2000</text>
<rect x="238.5" y="197.6" width="55.5" height="42" fill="none" stroke="#a8a8a8" stroke-width="0.8"/>
<path d="M256.7,233.4 H293.4 M256.7,231.4 V235.4 M293.4,231.4 V235.4" stroke="#8a96a0" stroke-width="0.7" fill="none"/>
<path d="M238.7,231 C239.08,230.17 240.12,228 241,226 C241.88,224 243.08,221.08 244,219 C244.92,216.92 245.83,214.75 246.5,213.5 C247.17,212.25 247.5,211.42 248,211.5 C248.5,211.58 248.92,212.25 249.5,214 C250.08,215.75 250.92,219 251.5,222 C252.08,225 252.45,229.06 253,232 C253.55,234.94 254.3,238.38 254.8,239.65 C255.3,240.93 255.8,239.65 256,239.65" fill="none" stroke="#111" stroke-width="1.7" stroke-linejoin="round"/>
<path d="M238.7,229 C239.08,228.25 240.2,226.33 241,224.5 C241.8,222.67 242.67,220.08 243.5,218 C244.33,215.92 245.17,214 246,212 C246.83,210 247.83,207.67 248.5,206 C249.17,204.33 249.58,202.83 250,202 C250.42,201.17 250.63,200.83 251,201 C251.37,201.17 251.78,201.5 252.2,203 C252.62,204.5 253.03,207.33 253.5,210 C253.97,212.67 254.53,216 255,219 C255.47,222 255.87,225.17 256.3,228 C256.73,230.83 257.22,234.06 257.6,236 C257.98,237.94 258.2,239.04 258.6,239.65 C259,240.26 254.2,239.65 260,239.65 C265.8,239.65 287.83,239.65 293.4,239.65" fill="none" stroke="#e01c24" stroke-width="1.5" stroke-linejoin="round"/>
<path d="M238.5,197.6 V239.6 H294" fill="none" stroke="#1a1a1a" stroke-width="1.3"/>
<text x="285.5" y="231.1" font-size="10" font-weight="bold" text-anchor="end">18</text>
<text x="238" y="245.2" font-size="3.4" fill="#707070" text-anchor="middle">10<tspan font-size="2.2" dy="-1.2">0</tspan></text>
<text x="251.88" y="245.2" font-size="3.4" fill="#707070" text-anchor="middle">10<tspan font-size="2.2" dy="-1.2">1</tspan></text>
<text x="265.75" y="245.2" font-size="3.4" fill="#707070" text-anchor="middle">10<tspan font-size="2.2" dy="-1.2">2</tspan></text>
<text x="279.62" y="245.2" font-size="3.4" fill="#707070" text-anchor="middle">10<tspan font-size="2.2" dy="-1.2">3</tspan></text>
<text x="293.5" y="245.2" font-size="3.4" fill="#707070" text-anchor="middle">10<tspan font-size="2.2" dy="-1.2">4</tspan></text>
<text x="237" y="240.7" font-size="3.4" fill="#707070" text-anchor="end">0</text>
<text x="237" y="230.2" font-size="3.4" fill="#707070" text-anchor="end">500</text>
<text x="237" y="219.7" font-size="3.4" fill="#707070" text-anchor="end">1000</text>
<text x="237" y="209.2" font-size="3.4" fill="#707070" text-anchor="end">1500</text>
<text x="237" y="198.7" font-size="3.4" fill="#707070" text-anchor="end">2000</text>
<rect x="308.3" y="197.6" width="55.7" height="42" fill="none" stroke="#a8a8a8" stroke-width="0.8"/>
<path d="M326,233.4 H363.4 M326,231.4 V235.4 M363.4,231.4 V235.4" stroke="#8a96a0" stroke-width="0.7" fill="none"/>
<path d="M308.5,231 C308.92,230.33 310.08,228.5 311,227 C311.92,225.5 313,223.3 314,222 C315,220.7 316.17,219.37 317,219.2 C317.83,219.03 318.33,219.53 319,221 C319.67,222.47 320.42,225.83 321,228 C321.58,230.17 322.03,232.2 322.5,234 C322.97,235.8 323.38,237.86 323.8,238.8 C324.22,239.74 324.8,239.51 325,239.65" fill="none" stroke="#111" stroke-width="1.7" stroke-linejoin="round"/>
<path d="M308.5,237.5 C308.92,237.25 310.08,236.5 311,236 C311.92,235.5 313,235.17 314,234.5 C315,233.83 316,233.42 317,232 C318,230.58 319.08,228 320,226 C320.92,224 321.75,221.83 322.5,220 C323.25,218.17 323.83,216.5 324.5,215 C325.17,213.5 325.97,211.8 326.5,211 C327.03,210.2 327.28,209.95 327.7,210.2 C328.12,210.45 328.53,211.03 329,212.5 C329.47,213.97 330,216.42 330.5,219 C331,221.58 331.55,225.33 332,228 C332.45,230.67 332.8,233.06 333.2,235 C333.6,236.94 333.93,238.88 334.4,239.65 C334.87,240.43 331.17,239.65 336,239.65 C340.83,239.65 358.83,239.65 363.4,239.65" fill="none" stroke="#e01c24" stroke-width="1.5" stroke-linejoin="round"/>
<path d="M308.3,197.6 V239.6 H364" fill="none" stroke="#1a1a1a" stroke-width="1.3"/>
<text x="353.6" y="231.1" font-size="10" font-weight="bold" text-anchor="end">46</text>
<text x="307.8" y="245.2" font-size="3.4" fill="#707070" text-anchor="middle">10<tspan font-size="2.2" dy="-1.2">0</tspan></text>
<text x="321.73" y="245.2" font-size="3.4" fill="#707070" text-anchor="middle">10<tspan font-size="2.2" dy="-1.2">1</tspan></text>
<text x="335.65" y="245.2" font-size="3.4" fill="#707070" text-anchor="middle">10<tspan font-size="2.2" dy="-1.2">2</tspan></text>
<text x="349.57" y="245.2" font-size="3.4" fill="#707070" text-anchor="middle">10<tspan font-size="2.2" dy="-1.2">3</tspan></text>
<text x="363.5" y="245.2" font-size="3.4" fill="#707070" text-anchor="middle">10<tspan font-size="2.2" dy="-1.2">4</tspan></text>
<text x="306.8" y="240.7" font-size="3.4" fill="#707070" text-anchor="end">0</text>
<text x="306.8" y="230.2" font-size="3.4" fill="#707070" text-anchor="end">500</text>
<text x="306.8" y="219.7" font-size="3.4" fill="#707070" text-anchor="end">1000</text>
<text x="306.8" y="209.2" font-size="3.4" fill="#707070" text-anchor="end">1500</text>
<text x="306.8" y="198.7" font-size="3.4" fill="#707070" text-anchor="end">2000</text>
<rect x="95.6" y="250.5" width="55.9" height="41.5" fill="none" stroke="#a8a8a8" stroke-width="0.8"/>
<path d="M113.5,285.8 H150.9 M113.5,283.8 V287.8 M150.9,283.8 V287.8" stroke="#8a96a0" stroke-width="0.7" fill="none"/>
<path d="M95.8,289 C96.17,288.75 97.13,288.33 98,287.5 C98.87,286.67 100,285.08 101,284 C102,282.92 103.2,281.67 104,281 C104.8,280.33 105.13,279.92 105.8,280 C106.47,280.08 107.22,280.67 108,281.5 C108.78,282.33 109.67,283.67 110.5,285 C111.33,286.33 112.25,288.32 113,289.5 C113.75,290.68 114.67,291.62 115,292.05" fill="none" stroke="#111" stroke-width="1.7" stroke-linejoin="round"/>
<path d="M95.8,292.05 C97.17,292.05 102.05,292.31 104,292.05 C105.95,291.79 106.58,290.96 107.5,290.5 C108.42,290.04 108.92,289.38 109.5,289.3 C110.08,289.22 110.5,289.75 111,290 C111.5,290.25 112,290.88 112.5,290.8 C113,290.72 113.45,289.8 114,289.5 C114.55,289.2 115.22,288.83 115.8,289 C116.38,289.17 116.88,289.99 117.5,290.5 C118.12,291.01 118.58,291.79 119.5,292.05 C120.42,292.31 122.17,292.56 123,292.05 C123.83,291.54 124.03,291.01 124.5,289 C124.97,286.99 125.35,283.83 125.8,280 C126.25,276.17 126.75,270 127.2,266 C127.65,262 128.1,258.08 128.5,256 C128.9,253.92 129.22,253.5 129.6,253.5 C129.98,253.5 130.4,253.92 130.8,256 C131.2,258.08 131.58,262 132,266 C132.42,270 132.88,276.17 133.3,280 C133.72,283.83 134.05,286.99 134.5,289 C134.95,291.01 133.25,291.54 136,292.05 C138.75,292.56 148.5,292.05 151,292.05" fill="none" stroke="#e01c24" stroke-width="1.5" stroke-linejoin="round"/>
<path d="M95.6,250.5 V292 H151.5" fill="none" stroke="#1a1a1a" stroke-width="1.3"/>
<text x="143.1" y="283.5" font-size="10" font-weight="bold" text-anchor="end">99</text>
<text x="95.1" y="297.6" font-size="3.4" fill="#707070" text-anchor="middle">10<tspan font-size="2.2" dy="-1.2">0</tspan></text>
<text x="109.07" y="297.6" font-size="3.4" fill="#707070" text-anchor="middle">10<tspan font-size="2.2" dy="-1.2">1</tspan></text>
<text x="123.05" y="297.6" font-size="3.4" fill="#707070" text-anchor="middle">10<tspan font-size="2.2" dy="-1.2">2</tspan></text>
<text x="137.03" y="297.6" font-size="3.4" fill="#707070" text-anchor="middle">10<tspan font-size="2.2" dy="-1.2">3</tspan></text>
<text x="151" y="297.6" font-size="3.4" fill="#707070" text-anchor="middle">10<tspan font-size="2.2" dy="-1.2">4</tspan></text>
<text x="94.1" y="293.1" font-size="3.4" fill="#707070" text-anchor="end">0</text>
<text x="94.1" y="282.73" font-size="3.4" fill="#707070" text-anchor="end">500</text>
<text x="94.1" y="272.35" font-size="3.4" fill="#707070" text-anchor="end">1000</text>
<text x="94.1" y="261.98" font-size="3.4" fill="#707070" text-anchor="end">1500</text>
<text x="94.1" y="251.6" font-size="3.4" fill="#707070" text-anchor="end">2000</text>
<rect x="166.3" y="250.5" width="56.3" height="41.5" fill="none" stroke="#a8a8a8" stroke-width="0.8"/>
<path d="M188.5,285.8 H222 M188.5,283.8 V287.8 M222,283.8 V287.8" stroke="#8a96a0" stroke-width="0.7" fill="none"/>
<path d="M166.5,289 C167.08,288.5 168.75,287.33 170,286 C171.25,284.67 172.63,282.4 174,281 C175.37,279.6 177.03,277.85 178.2,277.6 C179.37,277.35 180.03,278.43 181,279.5 C181.97,280.57 183.08,282.5 184,284 C184.92,285.5 185.75,287.3 186.5,288.5 C187.25,289.7 188.17,290.75 188.5,291.2" fill="none" stroke="#111" stroke-width="1.7" stroke-linejoin="round"/>
<path d="M166.5,292.05 C166.92,291.71 168.08,290.68 169,290 C169.92,289.32 171,288.83 172,288 C173,287.17 174.08,286.08 175,285 C175.92,283.92 176.8,282.53 177.5,281.5 C178.2,280.47 178.65,279.47 179.2,278.8 C179.75,278.13 180.28,278.27 180.8,277.5 C181.32,276.73 181.87,275.95 182.3,274.2 C182.73,272.45 183.02,269 183.4,267 C183.78,265 184.23,262.7 184.6,262.2 C184.97,261.7 185.27,263.28 185.6,264 C185.93,264.72 186.25,265.83 186.6,266.5 C186.95,267.17 187.33,266.58 187.7,268 C188.07,269.42 188.42,272.42 188.8,275 C189.18,277.58 189.6,281.17 190,283.5 C190.4,285.83 190.82,287.72 191.2,289 C191.58,290.28 191.83,290.69 192.3,291.2 C192.77,291.71 189.05,291.91 194,292.05 C198.95,292.19 217.33,292.05 222,292.05" fill="none" stroke="#e01c24" stroke-width="1.5" stroke-linejoin="round"/>
<path d="M166.3,250.5 V292 H222.6" fill="none" stroke="#1a1a1a" stroke-width="1.3"/>
<text x="214.5" y="283.5" font-size="10" font-weight="bold" text-anchor="end">12</text>
<text x="165.8" y="297.6" font-size="3.4" fill="#707070" text-anchor="middle">10<tspan font-size="2.2" dy="-1.2">0</tspan></text>
<text x="179.88" y="297.6" font-size="3.4" fill="#707070" text-anchor="middle">10<tspan font-size="2.2" dy="-1.2">1</tspan></text>
<text x="193.95" y="297.6" font-size="3.4" fill="#707070" text-anchor="middle">10<tspan font-size="2.2" dy="-1.2">2</tspan></text>
<text x="208.03" y="297.6" font-size="3.4" fill="#707070" text-anchor="middle">10<tspan font-size="2.2" dy="-1.2">3</tspan></text>
<text x="222.1" y="297.6" font-size="3.4" fill="#707070" text-anchor="middle">10<tspan font-size="2.2" dy="-1.2">4</tspan></text>
<text x="164.8" y="293.1" font-size="3.4" fill="#707070" text-anchor="end">0</text>
<text x="164.8" y="282.73" font-size="3.4" fill="#707070" text-anchor="end">500</text>
<text x="164.8" y="272.35" font-size="3.4" fill="#707070" text-anchor="end">1000</text>
<text x="164.8" y="261.98" font-size="3.4" fill="#707070" text-anchor="end">1500</text>
<text x="164.8" y="251.6" font-size="3.4" fill="#707070" text-anchor="end">2000</text>
<rect x="238.5" y="250.5" width="55.5" height="41.5" fill="none" stroke="#a8a8a8" stroke-width="0.8"/>
<path d="M256.9,285.8 H293.4 M256.9,283.8 V287.8 M293.4,283.8 V287.8" stroke="#8a96a0" stroke-width="0.7" fill="none"/>
<path d="M238.7,290 C239.08,289.58 240.12,288.5 241,287.5 C241.88,286.5 243.08,285.17 244,284 C244.92,282.83 245.75,281.37 246.5,280.5 C247.25,279.63 247.83,278.72 248.5,278.8 C249.17,278.88 249.83,279.8 250.5,281 C251.17,282.2 251.82,284.16 252.5,286 C253.18,287.84 254.25,291.04 254.6,292.05" fill="none" stroke="#111" stroke-width="1.7" stroke-linejoin="round"/>
<path d="M238.7,292.05 C239.58,292.05 242.45,292.05 244,292.05 C245.55,292.05 247,292.23 248,292.05 C249,291.88 249.33,291.51 250,291 C250.67,290.49 251.37,289.75 252,289 C252.63,288.25 253.27,287.83 253.8,286.5 C254.33,285.17 254.8,282.78 255.2,281 C255.6,279.22 255.83,277.63 256.2,275.8 C256.57,273.97 257.02,271.55 257.4,270 C257.78,268.45 258.12,266.67 258.5,266.5 C258.88,266.33 259.35,267.58 259.7,269 C260.05,270.42 260.3,273.1 260.6,275 C260.9,276.9 261.22,278.9 261.5,280.4 C261.78,281.9 262.02,283.1 262.3,284 C262.58,284.9 262.83,285.47 263.2,285.8 C263.57,286.13 264.07,286 264.5,286 C264.93,286 265.4,285.72 265.8,285.8 C266.2,285.88 266.53,286.05 266.9,286.5 C267.27,286.95 267.6,287.83 268,288.5 C268.4,289.17 268.83,289.91 269.3,290.5 C269.77,291.09 266.78,291.79 270.8,292.05 C274.82,292.31 289.63,292.05 293.4,292.05" fill="none" stroke="#e01c24" stroke-width="1.5" stroke-linejoin="round"/>
<path d="M238.5,250.5 V292 H294" fill="none" stroke="#1a1a1a" stroke-width="1.3"/>
<text x="285.5" y="283.5" font-size="10" font-weight="bold" text-anchor="end">77</text>
<text x="238" y="297.6" font-size="3.4" fill="#707070" text-anchor="middle">10<tspan font-size="2.2" dy="-1.2">0</tspan></text>
<text x="251.88" y="297.6" font-size="3.4" fill="#707070" text-anchor="middle">10<tspan font-size="2.2" dy="-1.2">1</tspan></text>
<text x="265.75" y="297.6" font-size="3.4" fill="#707070" text-anchor="middle">10<tspan font-size="2.2" dy="-1.2">2</tspan></text>
<text x="279.62" y="297.6" font-size="3.4" fill="#707070" text-anchor="middle">10<tspan font-size="2.2" dy="-1.2">3</tspan></text>
<text x="293.5" y="297.6" font-size="3.4" fill="#707070" text-anchor="middle">10<tspan font-size="2.2" dy="-1.2">4</tspan></text>
<text x="237" y="293.1" font-size="3.4" fill="#707070" text-anchor="end">0</text>
<text x="237" y="282.73" font-size="3.4" fill="#707070" text-anchor="end">500</text>
<text x="237" y="272.35" font-size="3.4" fill="#707070" text-anchor="end">1000</text>
<text x="237" y="261.98" font-size="3.4" fill="#707070" text-anchor="end">1500</text>
<text x="237" y="251.6" font-size="3.4" fill="#707070" text-anchor="end">2000</text>
<rect x="308.3" y="250.5" width="55.7" height="41.5" fill="none" stroke="#a8a8a8" stroke-width="0.8"/>
<path d="M327.4,285.8 H363.4 M327.4,283.8 V287.8 M363.4,283.8 V287.8" stroke="#8a96a0" stroke-width="0.7" fill="none"/>
<path d="M308.5,283 C308.92,282.42 310.08,280.67 311,279.5 C311.92,278.33 312.88,277.27 314,276 C315.12,274.73 316.78,272.23 317.7,271.9 C318.62,271.57 318.95,272.82 319.5,274 C320.05,275.18 320.45,277 321,279 C321.55,281 322.2,283.82 322.8,286 C323.4,288.18 324.3,291.04 324.6,292.05" fill="none" stroke="#111" stroke-width="1.7" stroke-linejoin="round"/>
<path d="M308.5,289.5 C308.92,289.58 310.25,289.78 311,290 C311.75,290.22 312.42,290.88 313,290.8 C313.58,290.72 314,290.13 314.5,289.5 C315,288.87 315.5,287.67 316,287 C316.5,286.33 317,285.83 317.5,285.5 C318,285.17 318.53,285.42 319,285 C319.47,284.58 319.88,284.17 320.3,283 C320.72,281.83 321.08,279.83 321.5,278 C321.92,276.17 322.38,274 322.8,272 C323.22,270 323.6,268 324,266 C324.4,264 324.82,261.67 325.2,260 C325.58,258.33 325.97,257.5 326.3,256 C326.63,254.5 326.87,251.87 327.2,251 C327.53,250.13 327.95,250.13 328.3,250.8 C328.65,251.47 329.02,253.63 329.3,255 C329.58,256.37 329.75,259.33 330,259 C330.25,258.67 330.5,253.5 330.8,253 C331.1,252.5 331.47,254 331.8,256 C332.13,258 332.47,261.67 332.8,265 C333.13,268.33 333.47,272.67 333.8,276 C334.13,279.33 334.47,283 334.8,285 C335.13,287 335.47,287.58 335.8,288 C336.13,288.42 336.43,287.17 336.8,287.5 C337.17,287.83 337.55,289.24 338,290 C338.45,290.76 339,291.92 339.5,292.05 C340,292.18 340.5,291.31 341,290.8 C341.5,290.29 342,289.05 342.5,289 C343,288.95 343.5,289.99 344,290.5 C344.5,291.01 342.27,291.79 345.5,292.05 C348.73,292.31 360.42,292.05 363.4,292.05" fill="none" stroke="#e01c24" stroke-width="1.5" stroke-linejoin="round"/>
<path d="M308.3,250.5 V292 H364" fill="none" stroke="#1a1a1a" stroke-width="1.3"/>
<text x="353.6" y="283.5" font-size="10" font-weight="bold" text-anchor="end">31</text>
<text x="307.8" y="297.6" font-size="3.4" fill="#707070" text-anchor="middle">10<tspan font-size="2.2" dy="-1.2">0</tspan></text>
<text x="321.73" y="297.6" font-size="3.4" fill="#707070" text-anchor="middle">10<tspan font-size="2.2" dy="-1.2">1</tspan></text>
<text x="335.65" y="297.6" font-size="3.4" fill="#707070" text-anchor="middle">10<tspan font-size="2.2" dy="-1.2">2</tspan></text>
<text x="349.57" y="297.6" font-size="3.4" fill="#707070" text-anchor="middle">10<tspan font-size="2.2" dy="-1.2">3</tspan></text>
<text x="363.5" y="297.6" font-size="3.4" fill="#707070" text-anchor="middle">10<tspan font-size="2.2" dy="-1.2">4</tspan></text>
<text x="306.8" y="293.1" font-size="3.4" fill="#707070" text-anchor="end">0</text>
<text x="306.8" y="282.73" font-size="3.4" fill="#707070" text-anchor="end">500</text>
<text x="306.8" y="272.35" font-size="3.4" fill="#707070" text-anchor="end">1000</text>
<text x="306.8" y="261.98" font-size="3.4" fill="#707070" text-anchor="end">1500</text>
<text x="306.8" y="251.6" font-size="3.4" fill="#707070" text-anchor="end">2000</text>
<rect x="95.6" y="302.3" width="55.9" height="41.8" fill="none" stroke="#a8a8a8" stroke-width="0.8"/>
<path d="M114.2,337.9 H150.9 M114.2,335.9 V339.9 M150.9,335.9 V339.9" stroke="#8a96a0" stroke-width="0.7" fill="none"/>
<path d="M95.8,341 C96.17,340.75 97.13,340.17 98,339.5 C98.87,338.83 100,337.92 101,337 C102,336.08 103.08,334.72 104,334 C104.92,333.28 105.75,332.62 106.5,332.7 C107.25,332.78 107.83,333.53 108.5,334.5 C109.17,335.47 109.83,337.17 110.5,338.5 C111.17,339.83 111.92,341.56 112.5,342.5 C113.08,343.44 113.75,343.88 114,344.15" fill="none" stroke="#111" stroke-width="1.7" stroke-linejoin="round"/>
<path d="M95.8,344.15 C98.5,344.15 108.8,344.28 112,344.15 C115.2,344.03 114.08,343.76 115,343.4 C115.92,343.04 116.83,342.98 117.5,342 C118.17,341.02 118.53,339.5 119,337.5 C119.47,335.5 119.87,332.92 120.3,330 C120.73,327.08 121.18,323 121.6,320 C122.02,317 122.4,313.83 122.8,312 C123.2,310.17 123.58,309.45 124,309 C124.42,308.55 124.88,308.63 125.3,309.3 C125.72,309.97 126.08,311.05 126.5,313 C126.92,314.95 127.35,318 127.8,321 C128.25,324 128.73,328.08 129.2,331 C129.67,333.92 130.13,336.58 130.6,338.5 C131.07,340.42 131.43,341.56 132,342.5 C132.57,343.44 130.83,343.88 134,344.15 C137.17,344.43 148.17,344.15 151,344.15" fill="none" stroke="#e01c24" stroke-width="1.5" stroke-linejoin="round"/>
<path d="M95.6,302.3 V344.1 H151.5" fill="none" stroke="#1a1a1a" stroke-width="1.3"/>
<text x="143.1" y="335.6" font-size="10" font-weight="bold" text-anchor="end">99</text>
<text x="95.1" y="349.7" font-size="3.4" fill="#707070" text-anchor="middle">10<tspan font-size="2.2" dy="-1.2">0</tspan></text>
<text x="109.07" y="349.7" font-size="3.4" fill="#707070" text-anchor="middle">10<tspan font-size="2.2" dy="-1.2">1</tspan></text>
<text x="123.05" y="349.7" font-size="3.4" fill="#707070" text-anchor="middle">10<tspan font-size="2.2" dy="-1.2">2</tspan></text>
<text x="137.03" y="349.7" font-size="3.4" fill="#707070" text-anchor="middle">10<tspan font-size="2.2" dy="-1.2">3</tspan></text>
<text x="151" y="349.7" font-size="3.4" fill="#707070" text-anchor="middle">10<tspan font-size="2.2" dy="-1.2">4</tspan></text>
<text x="94.1" y="345.2" font-size="3.4" fill="#707070" text-anchor="end">0</text>
<text x="94.1" y="334.75" font-size="3.4" fill="#707070" text-anchor="end">500</text>
<text x="94.1" y="324.3" font-size="3.4" fill="#707070" text-anchor="end">1000</text>
<text x="94.1" y="313.85" font-size="3.4" fill="#707070" text-anchor="end">1500</text>
<text x="94.1" y="303.4" font-size="3.4" fill="#707070" text-anchor="end">2000</text>
<rect x="166.3" y="302.3" width="56.3" height="41.8" fill="none" stroke="#a8a8a8" stroke-width="0.8"/>
<path d="M188.9,337.9 H222 M188.9,335.9 V339.9 M222,335.9 V339.9" stroke="#8a96a0" stroke-width="0.7" fill="none"/>
<path d="M166.5,341 C167.08,340.42 168.75,338.83 170,337.5 C171.25,336.17 172.58,334.32 174,333 C175.42,331.68 177.33,329.93 178.5,329.6 C179.67,329.27 180.08,330.02 181,331 C181.92,331.98 183.08,334 184,335.5 C184.92,337 185.75,338.7 186.5,340 C187.25,341.3 188.17,342.75 188.5,343.3" fill="none" stroke="#111" stroke-width="1.7" stroke-linejoin="round"/>
<path d="M166.5,343.4 C167.08,343.25 168.83,342.98 170,342.5 C171.17,342.02 172.33,341.25 173.5,340.5 C174.67,339.75 175.92,339.08 177,338 C178.08,336.92 179.17,336 180,334 C180.83,332 181.33,328.67 182,326 C182.67,323.33 183.33,320.17 184,318 C184.67,315.83 185.42,314.17 186,313 C186.58,311.83 186.97,311.57 187.5,311 C188.03,310.43 188.73,309.27 189.2,309.6 C189.67,309.93 189.93,311.43 190.3,313 C190.67,314.57 190.98,316.5 191.4,319 C191.82,321.5 192.37,325.17 192.8,328 C193.23,330.83 193.6,333.83 194,336 C194.4,338.17 194.7,339.78 195.2,341 C195.7,342.22 192.53,342.77 197,343.3 C201.47,343.83 217.83,344.01 222,344.15" fill="none" stroke="#e01c24" stroke-width="1.5" stroke-linejoin="round"/>
<path d="M166.3,302.3 V344.1 H222.6" fill="none" stroke="#1a1a1a" stroke-width="1.3"/>
<text x="214.5" y="335.6" font-size="10" font-weight="bold" text-anchor="end">42</text>
<text x="165.8" y="349.7" font-size="3.4" fill="#707070" text-anchor="middle">10<tspan font-size="2.2" dy="-1.2">0</tspan></text>
<text x="179.88" y="349.7" font-size="3.4" fill="#707070" text-anchor="middle">10<tspan font-size="2.2" dy="-1.2">1</tspan></text>
<text x="193.95" y="349.7" font-size="3.4" fill="#707070" text-anchor="middle">10<tspan font-size="2.2" dy="-1.2">2</tspan></text>
<text x="208.03" y="349.7" font-size="3.4" fill="#707070" text-anchor="middle">10<tspan font-size="2.2" dy="-1.2">3</tspan></text>
<text x="222.1" y="349.7" font-size="3.4" fill="#707070" text-anchor="middle">10<tspan font-size="2.2" dy="-1.2">4</tspan></text>
<text x="164.8" y="345.2" font-size="3.4" fill="#707070" text-anchor="end">0</text>
<text x="164.8" y="334.75" font-size="3.4" fill="#707070" text-anchor="end">500</text>
<text x="164.8" y="324.3" font-size="3.4" fill="#707070" text-anchor="end">1000</text>
<text x="164.8" y="313.85" font-size="3.4" fill="#707070" text-anchor="end">1500</text>
<text x="164.8" y="303.4" font-size="3.4" fill="#707070" text-anchor="end">2000</text>
<rect x="238.5" y="302.3" width="55.5" height="41.8" fill="none" stroke="#a8a8a8" stroke-width="0.8"/>
<path d="M255.8,337.9 H293.4 M255.8,335.9 V339.9 M293.4,335.9 V339.9" stroke="#8a96a0" stroke-width="0.7" fill="none"/>
<path d="M238.5,340 C238.92,339.75 240.08,339 241,338.5 C241.92,338 243.02,337.38 244,337 C244.98,336.62 246.07,336.07 246.9,336.2 C247.73,336.33 248.32,337 249,337.8 C249.68,338.6 250.45,339.94 251,341 C251.55,342.06 252.08,343.62 252.3,344.15" fill="none" stroke="#111" stroke-width="1.7" stroke-linejoin="round"/>
<path d="M238.5,344.15 C239.08,344.15 241.08,344.41 242,344.15 C242.92,343.89 243.17,342.91 244,342.6 C244.83,342.29 246,342.27 247,342.3 C248,342.33 249,342.68 250,342.8 C251,342.92 252,343.05 253,343 C254,342.95 255.17,342.43 256,342.5 C256.83,342.57 257.25,343.25 258,343.4 C258.75,343.55 259.83,344.3 260.5,343.4 C261.17,342.5 261.53,340.73 262,338 C262.47,335.27 262.88,331 263.3,327 C263.72,323 264.1,317.42 264.5,314 C264.9,310.58 265.3,306.67 265.7,306.5 C266.1,306.33 266.5,309.58 266.9,313 C267.3,316.42 267.7,322.67 268.1,327 C268.5,331.33 268.9,336.14 269.3,339 C269.7,341.86 266.48,343.29 270.5,344.15 C274.52,345.01 289.58,344.15 293.4,344.15" fill="none" stroke="#e01c24" stroke-width="1.5" stroke-linejoin="round"/>
<path d="M238.5,302.3 V344.1 H294" fill="none" stroke="#1a1a1a" stroke-width="1.3"/>
<text x="285.5" y="335.6" font-size="10" font-weight="bold" text-anchor="end">92</text>
<text x="238" y="349.7" font-size="3.4" fill="#707070" text-anchor="middle">10<tspan font-size="2.2" dy="-1.2">0</tspan></text>
<text x="251.88" y="349.7" font-size="3.4" fill="#707070" text-anchor="middle">10<tspan font-size="2.2" dy="-1.2">1</tspan></text>
<text x="265.75" y="349.7" font-size="3.4" fill="#707070" text-anchor="middle">10<tspan font-size="2.2" dy="-1.2">2</tspan></text>
<text x="279.62" y="349.7" font-size="3.4" fill="#707070" text-anchor="middle">10<tspan font-size="2.2" dy="-1.2">3</tspan></text>
<text x="293.5" y="349.7" font-size="3.4" fill="#707070" text-anchor="middle">10<tspan font-size="2.2" dy="-1.2">4</tspan></text>
<text x="237" y="345.2" font-size="3.4" fill="#707070" text-anchor="end">0</text>
<text x="237" y="334.75" font-size="3.4" fill="#707070" text-anchor="end">500</text>
<text x="237" y="324.3" font-size="3.4" fill="#707070" text-anchor="end">1000</text>
<text x="237" y="313.85" font-size="3.4" fill="#707070" text-anchor="end">1500</text>
<text x="237" y="303.4" font-size="3.4" fill="#707070" text-anchor="end">2000</text>
<rect x="308.3" y="302.3" width="55.7" height="41.8" fill="none" stroke="#a8a8a8" stroke-width="0.8"/>
<path d="M326.5,337.9 H363.4 M326.5,335.9 V339.9 M363.4,335.9 V339.9" stroke="#8a96a0" stroke-width="0.7" fill="none"/>
<path d="M308.5,336 C308.92,335.33 310.08,333.5 311,332 C311.92,330.5 312.88,328.42 314,327 C315.12,325.58 316.78,323.67 317.7,323.5 C318.62,323.33 318.87,324.42 319.5,326 C320.13,327.58 320.92,330.83 321.5,333 C322.08,335.17 322.48,337.27 323,339 C323.52,340.73 324.33,342.67 324.6,343.4" fill="none" stroke="#111" stroke-width="1.7" stroke-linejoin="round"/>
<path d="M308.5,343.2 C309.25,342.87 311.42,342.32 313,341.2 C314.58,340.08 316.67,338.2 318,336.5 C319.33,334.8 320.17,333.08 321,331 C321.83,328.92 322.33,326.17 323,324 C323.67,321.83 324.33,320 325,318 C325.67,316 326.37,313.92 327,312 C327.63,310.08 328.25,307.85 328.8,306.5 C329.35,305.15 329.85,303.48 330.3,303.9 C330.75,304.32 331.13,306.65 331.5,309 C331.87,311.35 332.17,315 332.5,318 C332.83,321 333.17,324.08 333.5,327 C333.83,329.92 334.13,333.13 334.5,335.5 C334.87,337.87 335.25,339.9 335.7,341.2 C336.15,342.5 332.58,342.81 337.2,343.3 C341.82,343.79 359.03,344.01 363.4,344.15" fill="none" stroke="#e01c24" stroke-width="1.5" stroke-linejoin="round"/>
<path d="M308.3,302.3 V344.1 H364" fill="none" stroke="#1a1a1a" stroke-width="1.3"/>
<text x="353.6" y="335.6" font-size="10" font-weight="bold" text-anchor="end">62</text>
<text x="307.8" y="349.7" font-size="3.4" fill="#707070" text-anchor="middle">10<tspan font-size="2.2" dy="-1.2">0</tspan></text>
<text x="321.73" y="349.7" font-size="3.4" fill="#707070" text-anchor="middle">10<tspan font-size="2.2" dy="-1.2">1</tspan></text>
<text x="335.65" y="349.7" font-size="3.4" fill="#707070" text-anchor="middle">10<tspan font-size="2.2" dy="-1.2">2</tspan></text>
<text x="349.57" y="349.7" font-size="3.4" fill="#707070" text-anchor="middle">10<tspan font-size="2.2" dy="-1.2">3</tspan></text>
<text x="363.5" y="349.7" font-size="3.4" fill="#707070" text-anchor="middle">10<tspan font-size="2.2" dy="-1.2">4</tspan></text>
<text x="306.8" y="345.2" font-size="3.4" fill="#707070" text-anchor="end">0</text>
<text x="306.8" y="334.75" font-size="3.4" fill="#707070" text-anchor="end">500</text>
<text x="306.8" y="324.3" font-size="3.4" fill="#707070" text-anchor="end">1000</text>
<text x="306.8" y="313.85" font-size="3.4" fill="#707070" text-anchor="end">1500</text>
<text x="306.8" y="303.4" font-size="3.4" fill="#707070" text-anchor="end">2000</text>
<rect x="95.6" y="353.6" width="55.9" height="42" fill="none" stroke="#a8a8a8" stroke-width="0.8"/>
<path d="M113.4,389.4 H150.9 M113.4,387.4 V391.4 M150.9,387.4 V391.4" stroke="#8a96a0" stroke-width="0.7" fill="none"/>
<path d="M95.8,392 C96.17,391.75 97.13,391.25 98,390.5 C98.87,389.75 100,388.58 101,387.5 C102,386.42 103.12,384.87 104,384 C104.88,383.13 105.55,382.3 106.3,382.3 C107.05,382.3 107.8,382.97 108.5,384 C109.2,385.03 109.83,386.92 110.5,388.5 C111.17,390.08 111.92,392.31 112.5,393.5 C113.08,394.69 113.75,395.29 114,395.65" fill="none" stroke="#111" stroke-width="1.7" stroke-linejoin="round"/>
<path d="M95.8,395.65 C98.17,395.65 107.05,395.65 110,395.65 C112.95,395.65 112.63,396.43 113.5,395.65 C114.37,394.88 114.7,393.11 115.2,391 C115.7,388.89 116.07,385.67 116.5,383 C116.93,380.33 117.38,377.5 117.8,375 C118.22,372.5 118.58,369.92 119,368 C119.42,366.08 119.88,364.6 120.3,363.5 C120.72,362.4 121.12,361.48 121.5,361.4 C121.88,361.32 122.25,361.98 122.6,363 C122.95,364.02 123.23,366.33 123.6,367.5 C123.97,368.67 124.4,368.58 124.8,370 C125.2,371.42 125.55,373.67 126,376 C126.45,378.33 127,381.58 127.5,384 C128,386.42 128.48,388.75 129,390.5 C129.52,392.25 129.93,393.64 130.6,394.5 C131.27,395.36 129.6,395.46 133,395.65 C136.4,395.84 148,395.65 151,395.65" fill="none" stroke="#e01c24" stroke-width="1.5" stroke-linejoin="round"/>
<path d="M95.6,353.6 V395.6 H151.5" fill="none" stroke="#1a1a1a" stroke-width="1.3"/>
<text x="143.1" y="387.1" font-size="10" font-weight="bold" text-anchor="end">99</text>
<text x="95.1" y="401.2" font-size="3.4" fill="#707070" text-anchor="middle">10<tspan font-size="2.2" dy="-1.2">0</tspan></text>
<text x="109.07" y="401.2" font-size="3.4" fill="#707070" text-anchor="middle">10<tspan font-size="2.2" dy="-1.2">1</tspan></text>
<text x="123.05" y="401.2" font-size="3.4" fill="#707070" text-anchor="middle">10<tspan font-size="2.2" dy="-1.2">2</tspan></text>
<text x="137.03" y="401.2" font-size="3.4" fill="#707070" text-anchor="middle">10<tspan font-size="2.2" dy="-1.2">3</tspan></text>
<text x="151" y="401.2" font-size="3.4" fill="#707070" text-anchor="middle">10<tspan font-size="2.2" dy="-1.2">4</tspan></text>
<text x="94.1" y="396.7" font-size="3.4" fill="#707070" text-anchor="end">0</text>
<text x="94.1" y="386.2" font-size="3.4" fill="#707070" text-anchor="end">500</text>
<text x="94.1" y="375.7" font-size="3.4" fill="#707070" text-anchor="end">1000</text>
<text x="94.1" y="365.2" font-size="3.4" fill="#707070" text-anchor="end">1500</text>
<text x="94.1" y="354.7" font-size="3.4" fill="#707070" text-anchor="end">2000</text>
<rect x="166.3" y="353.6" width="56.3" height="42" fill="none" stroke="#a8a8a8" stroke-width="0.8"/>
<path d="M188.5,389.4 H222 M188.5,387.4 V391.4 M222,387.4 V391.4" stroke="#8a96a0" stroke-width="0.7" fill="none"/>
<path d="M166.5,392.5 C166.92,392.17 168.08,391.15 169,390.5 C169.92,389.85 171.17,389.05 172,388.6 C172.83,388.15 173.33,388.23 174,387.8 C174.67,387.37 175.25,386.53 176,386 C176.75,385.47 177.75,384.52 178.5,384.6 C179.25,384.68 179.83,385.77 180.5,386.5 C181.17,387.23 181.75,387.92 182.5,389 C183.25,390.08 184.08,391.89 185,393 C185.92,394.11 187.5,395.21 188,395.65" fill="none" stroke="#111" stroke-width="1.7" stroke-linejoin="round"/>
<path d="M166.5,395.65 C166.92,395.51 168.08,395.08 169,394.8 C169.92,394.52 171,394.3 172,394 C173,393.7 174.08,393.42 175,393 C175.92,392.58 176.67,392.12 177.5,391.5 C178.33,390.88 179.25,390.3 180,389.3 C180.75,388.3 181.4,387.05 182,385.5 C182.6,383.95 183.1,381.67 183.6,380 C184.1,378.33 184.52,376.75 185,375.5 C185.48,374.25 185.97,373.37 186.5,372.5 C187.03,371.63 187.73,370.13 188.2,370.3 C188.67,370.47 188.95,371.88 189.3,373.5 C189.65,375.12 189.98,377.67 190.3,380 C190.62,382.33 190.88,385.33 191.2,387.5 C191.52,389.67 191.82,391.64 192.2,393 C192.58,394.36 188.53,395.21 193.5,395.65 C198.47,396.09 217.25,395.65 222,395.65" fill="none" stroke="#e01c24" stroke-width="1.5" stroke-linejoin="round"/>
<path d="M166.3,353.6 V395.6 H222.6" fill="none" stroke="#1a1a1a" stroke-width="1.3"/>
<text x="214.5" y="387.1" font-size="10" font-weight="bold" text-anchor="end">32</text>
<text x="165.8" y="401.2" font-size="3.4" fill="#707070" text-anchor="middle">10<tspan font-size="2.2" dy="-1.2">0</tspan></text>
<text x="179.88" y="401.2" font-size="3.4" fill="#707070" text-anchor="middle">10<tspan font-size="2.2" dy="-1.2">1</tspan></text>
<text x="193.95" y="401.2" font-size="3.4" fill="#707070" text-anchor="middle">10<tspan font-size="2.2" dy="-1.2">2</tspan></text>
<text x="208.03" y="401.2" font-size="3.4" fill="#707070" text-anchor="middle">10<tspan font-size="2.2" dy="-1.2">3</tspan></text>
<text x="222.1" y="401.2" font-size="3.4" fill="#707070" text-anchor="middle">10<tspan font-size="2.2" dy="-1.2">4</tspan></text>
<text x="164.8" y="396.7" font-size="3.4" fill="#707070" text-anchor="end">0</text>
<text x="164.8" y="386.2" font-size="3.4" fill="#707070" text-anchor="end">500</text>
<text x="164.8" y="375.7" font-size="3.4" fill="#707070" text-anchor="end">1000</text>
<text x="164.8" y="365.2" font-size="3.4" fill="#707070" text-anchor="end">1500</text>
<text x="164.8" y="354.7" font-size="3.4" fill="#707070" text-anchor="end">2000</text>
<rect x="238.5" y="353.6" width="55.5" height="42" fill="none" stroke="#a8a8a8" stroke-width="0.8"/>
<path d="M256.5,389.4 H293.4 M256.5,387.4 V391.4 M293.4,387.4 V391.4" stroke="#8a96a0" stroke-width="0.7" fill="none"/>
<path d="M238.7,387 C239,386.33 239.87,384.58 240.5,383 C241.13,381.42 241.75,379.75 242.5,377.5 C243.25,375.25 244.17,371.5 245,369.5 C245.83,367.5 246.8,366.27 247.5,365.5 C248.2,364.73 248.65,364.48 249.2,364.9 C249.75,365.32 250.3,366.32 250.8,368 C251.3,369.68 251.75,372.17 252.2,375 C252.65,377.83 253.03,382.08 253.5,385 C253.97,387.92 254.42,390.73 255,392.5 C255.58,394.27 256.67,395.12 257,395.65" fill="none" stroke="#111" stroke-width="1.7" stroke-linejoin="round"/>
<path d="M238.7,390 C238.92,389.7 239.53,388.73 240,388.2 C240.47,387.67 241.03,387.42 241.5,386.8 C241.97,386.18 242.42,385.38 242.8,384.5 C243.18,383.62 243.43,382.22 243.8,381.5 C244.17,380.78 244.6,381.12 245,380.2 C245.4,379.28 245.82,377.45 246.2,376 C246.58,374.55 246.93,372.67 247.3,371.5 C247.67,370.33 248.05,369.83 248.4,369 C248.75,368.17 249.08,367.33 249.4,366.5 C249.72,365.67 250,364.75 250.3,364 C250.6,363.25 250.9,362.03 251.2,362 C251.5,361.97 251.8,363.05 252.1,363.8 C252.4,364.55 252.68,366.55 253,366.5 C253.32,366.45 253.67,364.28 254,363.5 C254.33,362.72 254.7,361.63 255,361.8 C255.3,361.97 255.53,363.13 255.8,364.5 C256.07,365.87 256.32,367.92 256.6,370 C256.88,372.08 257.18,374.92 257.5,377 C257.82,379.08 258.17,381.2 258.5,382.5 C258.83,383.8 259.12,384.22 259.5,384.8 C259.88,385.38 260.38,385.38 260.8,386 C261.22,386.62 261.55,387.75 262,388.5 C262.45,389.25 263,389.92 263.5,390.5 C264,391.08 264.42,391.45 265,392 C265.58,392.55 266.33,393.33 267,393.8 C267.67,394.27 268.17,394.49 269,394.8 C269.83,395.11 267.87,395.51 272,395.65 C276.13,395.79 290.17,395.65 293.8,395.65" fill="none" stroke="#e01c24" stroke-width="1.5" stroke-linejoin="round"/>
<path d="M238.5,353.6 V395.6 H294" fill="none" stroke="#1a1a1a" stroke-width="1.3"/>
<text x="285.5" y="387.1" font-size="10" font-weight="bold" text-anchor="end">18</text>
<text x="238" y="401.2" font-size="3.4" fill="#707070" text-anchor="middle">10<tspan font-size="2.2" dy="-1.2">0</tspan></text>
<text x="251.88" y="401.2" font-size="3.4" fill="#707070" text-anchor="middle">10<tspan font-size="2.2" dy="-1.2">1</tspan></text>
<text x="265.75" y="401.2" font-size="3.4" fill="#707070" text-anchor="middle">10<tspan font-size="2.2" dy="-1.2">2</tspan></text>
<text x="279.62" y="401.2" font-size="3.4" fill="#707070" text-anchor="middle">10<tspan font-size="2.2" dy="-1.2">3</tspan></text>
<text x="293.5" y="401.2" font-size="3.4" fill="#707070" text-anchor="middle">10<tspan font-size="2.2" dy="-1.2">4</tspan></text>
<text x="237" y="396.7" font-size="3.4" fill="#707070" text-anchor="end">0</text>
<text x="237" y="386.2" font-size="3.4" fill="#707070" text-anchor="end">500</text>
<text x="237" y="375.7" font-size="3.4" fill="#707070" text-anchor="end">1000</text>
<text x="237" y="365.2" font-size="3.4" fill="#707070" text-anchor="end">1500</text>
<text x="237" y="354.7" font-size="3.4" fill="#707070" text-anchor="end">2000</text>
<rect x="308.3" y="353.6" width="55.7" height="42" fill="none" stroke="#a8a8a8" stroke-width="0.8"/>
<path d="M325.8,389.4 H363.4 M325.8,387.4 V391.4 M363.4,387.4 V391.4" stroke="#8a96a0" stroke-width="0.7" fill="none"/>
<path d="M309,390 C309.33,389.42 310.33,387.67 311,386.5 C311.67,385.33 312.33,384.33 313,383 C313.67,381.67 314.33,380 315,378.5 C315.67,377 316.3,375.23 317,374 C317.7,372.77 318.57,371.02 319.2,371.1 C319.83,371.18 320.3,372.85 320.8,374.5 C321.3,376.15 321.75,378.75 322.2,381 C322.65,383.25 323.03,385.92 323.5,388 C323.97,390.08 324.42,392.23 325,393.5 C325.58,394.77 326.67,395.29 327,395.65" fill="none" stroke="#111" stroke-width="1.7" stroke-linejoin="round"/>
<path d="M309,392 C309.2,391.58 309.82,390.12 310.2,389.5 C310.58,388.88 310.95,388.3 311.3,388.3 C311.65,388.3 311.97,389.18 312.3,389.5 C312.63,389.82 312.97,390.4 313.3,390.2 C313.63,390 313.97,389.08 314.3,388.3 C314.63,387.52 314.98,386.72 315.3,385.5 C315.62,384.28 315.92,382.25 316.2,381 C316.48,379.75 316.73,378.17 317,378 C317.27,377.83 317.53,379.33 317.8,380 C318.07,380.67 318.32,382.33 318.6,382 C318.88,381.67 319.22,379.08 319.5,378 C319.78,376.92 320.02,375.58 320.3,375.5 C320.58,375.42 320.9,376.67 321.2,377.5 C321.5,378.33 321.8,380.58 322.1,380.5 C322.4,380.42 322.68,378.33 323,377 C323.32,375.67 323.67,373.33 324,372.5 C324.33,371.67 324.67,371.83 325,372 C325.33,372.17 325.7,372.83 326,373.5 C326.3,374.17 326.53,376.12 326.8,376 C327.07,375.88 327.32,372.88 327.6,372.8 C327.88,372.72 328.22,374.22 328.5,375.5 C328.78,376.78 329,379.28 329.3,380.5 C329.6,381.72 329.97,382.05 330.3,382.8 C330.63,383.55 330.98,383.88 331.3,385 C331.62,386.12 331.88,388.17 332.2,389.5 C332.52,390.83 332.87,391.98 333.2,393 C333.53,394.02 333.73,395.21 334.2,395.65 C334.67,396.09 335.03,395.65 336,395.65 C336.97,395.65 337.67,395.65 340,395.65 C342.33,395.65 346.03,395.65 350,395.65 C353.97,395.65 361.5,395.65 363.8,395.65" fill="none" stroke="#e01c24" stroke-width="1.5" stroke-linejoin="round"/>
<path d="M308.3,353.6 V395.6 H364" fill="none" stroke="#1a1a1a" stroke-width="1.3"/>
<text x="353.6" y="387.1" font-size="10" font-weight="bold" text-anchor="end">19</text>
<text x="307.8" y="401.2" font-size="3.4" fill="#707070" text-anchor="middle">10<tspan font-size="2.2" dy="-1.2">0</tspan></text>
<text x="321.73" y="401.2" font-size="3.4" fill="#707070" text-anchor="middle">10<tspan font-size="2.2" dy="-1.2">1</tspan></text>
<text x="335.65" y="401.2" font-size="3.4" fill="#707070" text-anchor="middle">10<tspan font-size="2.2" dy="-1.2">2</tspan></text>
<text x="349.57" y="401.2" font-size="3.4" fill="#707070" text-anchor="middle">10<tspan font-size="2.2" dy="-1.2">3</tspan></text>
<text x="363.5" y="401.2" font-size="3.4" fill="#707070" text-anchor="middle">10<tspan font-size="2.2" dy="-1.2">4</tspan></text>
<text x="306.8" y="396.7" font-size="3.4" fill="#707070" text-anchor="end">0</text>
<text x="306.8" y="386.2" font-size="3.4" fill="#707070" text-anchor="end">500</text>
<text x="306.8" y="375.7" font-size="3.4" fill="#707070" text-anchor="end">1000</text>
<text x="306.8" y="365.2" font-size="3.4" fill="#707070" text-anchor="end">1500</text>
<text x="306.8" y="354.7" font-size="3.4" fill="#707070" text-anchor="end">2000</text>
<rect x="95.6" y="405.2" width="55.9" height="41.6" fill="none" stroke="#a8a8a8" stroke-width="0.8"/>
<path d="M113.4,440.6 H150.9 M113.4,438.6 V442.6 M150.9,438.6 V442.6" stroke="#8a96a0" stroke-width="0.7" fill="none"/>
<path d="M95.8,444 C96.17,443.67 97.13,442.75 98,442 C98.87,441.25 100,440.5 101,439.5 C102,438.5 103.12,436.82 104,436 C104.88,435.18 105.55,434.6 106.3,434.6 C107.05,434.6 107.8,435.1 108.5,436 C109.2,436.9 109.83,438.58 110.5,440 C111.17,441.42 111.92,443.36 112.5,444.5 C113.08,445.64 113.75,446.46 114,446.85" fill="none" stroke="#111" stroke-width="1.7" stroke-linejoin="round"/>
<path d="M95.8,446.85 C96.5,446.85 98.8,447.03 100,446.85 C101.2,446.68 102.17,446.28 103,445.8 C103.83,445.32 104.45,444.05 105,444 C105.55,443.95 105.8,445.42 106.3,445.5 C106.8,445.58 107.47,445.08 108,444.5 C108.53,443.92 109.03,442.08 109.5,442 C109.97,441.92 110.35,443.42 110.8,444 C111.25,444.58 111.75,445.17 112.2,445.5 C112.65,445.83 113.07,446.42 113.5,446 C113.93,445.58 114.38,444.67 114.8,443 C115.22,441.33 115.58,438.67 116,436 C116.42,433.33 116.87,429.83 117.3,427 C117.73,424.17 118.18,421.17 118.6,419 C119.02,416.83 119.4,415.13 119.8,414 C120.2,412.87 120.63,412.03 121,412.2 C121.37,412.37 121.63,413.53 122,415 C122.37,416.47 122.78,418.5 123.2,421 C123.62,423.5 124.07,426.92 124.5,430 C124.93,433.08 125.38,437.08 125.8,439.5 C126.22,441.92 126.55,443.42 127,444.5 C127.45,445.58 128,445.83 128.5,446 C129,446.17 129.5,445.75 130,445.5 C130.5,445.25 131,444.42 131.5,444.5 C132,444.58 132.42,445.87 133,446 C133.58,446.13 134.33,445.16 135,445.3 C135.67,445.44 134.33,446.59 137,446.85 C139.67,447.11 148.67,446.85 151,446.85" fill="none" stroke="#e01c24" stroke-width="1.5" stroke-linejoin="round"/>
<path d="M95.6,405.2 V446.8 H151.5" fill="none" stroke="#1a1a1a" stroke-width="1.3"/>
<text x="143.1" y="438.3" font-size="10" font-weight="bold" text-anchor="end">99</text>
<text x="95.1" y="452.4" font-size="3.4" fill="#707070" text-anchor="middle">10<tspan font-size="2.2" dy="-1.2">0</tspan></text>
<text x="109.07" y="452.4" font-size="3.4" fill="#707070" text-anchor="middle">10<tspan font-size="2.2" dy="-1.2">1</tspan></text>
<text x="123.05" y="452.4" font-size="3.4" fill="#707070" text-anchor="middle">10<tspan font-size="2.2" dy="-1.2">2</tspan></text>
<text x="137.03" y="452.4" font-size="3.4" fill="#707070" text-anchor="middle">10<tspan font-size="2.2" dy="-1.2">3</tspan></text>
<text x="151" y="452.4" font-size="3.4" fill="#707070" text-anchor="middle">10<tspan font-size="2.2" dy="-1.2">4</tspan></text>
<text x="94.1" y="447.9" font-size="3.4" fill="#707070" text-anchor="end">0</text>
<text x="94.1" y="437.5" font-size="3.4" fill="#707070" text-anchor="end">500</text>
<text x="94.1" y="427.1" font-size="3.4" fill="#707070" text-anchor="end">1000</text>
<text x="94.1" y="416.7" font-size="3.4" fill="#707070" text-anchor="end">1500</text>
<text x="94.1" y="406.3" font-size="3.4" fill="#707070" text-anchor="end">2000</text>
<rect x="166.3" y="405.2" width="56.3" height="41.6" fill="none" stroke="#a8a8a8" stroke-width="0.8"/>
<path d="M188.5,440.6 H222 M188.5,438.6 V442.6 M222,438.6 V442.6" stroke="#8a96a0" stroke-width="0.7" fill="none"/>
<path d="M166.5,444 C167.08,443.58 168.75,442.25 170,441.5 C171.25,440.75 172.53,440.13 174,439.5 C175.47,438.87 177.55,437.7 178.8,437.7 C180.05,437.7 180.63,438.7 181.5,439.5 C182.37,440.3 183.17,441.5 184,442.5 C184.83,443.5 185.83,444.77 186.5,445.5 C187.17,446.23 187.75,446.62 188,446.85" fill="none" stroke="#111" stroke-width="1.7" stroke-linejoin="round"/>
<path d="M166.5,446.85 C168.08,446.85 173.83,447.03 176,446.85 C178.17,446.68 178.58,446.24 179.5,445.8 C180.42,445.36 180.83,445 181.5,444.2 C182.17,443.4 182.92,442.2 183.5,441 C184.08,439.8 184.53,438.5 185,437 C185.47,435.5 185.88,434 186.3,432 C186.72,430 187.1,427.33 187.5,425 C187.9,422.67 188.35,419.57 188.7,418 C189.05,416.43 189.33,416.03 189.6,415.6 C189.87,415.17 190.07,415.17 190.3,415.4 C190.53,415.63 190.72,416.23 191,417 C191.28,417.77 191.67,418.5 192,420 C192.33,421.5 192.67,423.67 193,426 C193.33,428.33 193.67,431.33 194,434 C194.33,436.67 194.67,440.03 195,442 C195.33,443.97 195.58,444.99 196,445.8 C196.42,446.61 193.17,446.68 197.5,446.85 C201.83,447.03 217.92,446.85 222,446.85" fill="none" stroke="#e01c24" stroke-width="1.5" stroke-linejoin="round"/>
<path d="M166.3,405.2 V446.8 H222.6" fill="none" stroke="#1a1a1a" stroke-width="1.3"/>
<text x="214.5" y="438.3" font-size="10" font-weight="bold" text-anchor="end">65</text>
<text x="165.8" y="452.4" font-size="3.4" fill="#707070" text-anchor="middle">10<tspan font-size="2.2" dy="-1.2">0</tspan></text>
<text x="179.88" y="452.4" font-size="3.4" fill="#707070" text-anchor="middle">10<tspan font-size="2.2" dy="-1.2">1</tspan></text>
<text x="193.95" y="452.4" font-size="3.4" fill="#707070" text-anchor="middle">10<tspan font-size="2.2" dy="-1.2">2</tspan></text>
<text x="208.03" y="452.4" font-size="3.4" fill="#707070" text-anchor="middle">10<tspan font-size="2.2" dy="-1.2">3</tspan></text>
<text x="222.1" y="452.4" font-size="3.4" fill="#707070" text-anchor="middle">10<tspan font-size="2.2" dy="-1.2">4</tspan></text>
<text x="164.8" y="447.9" font-size="3.4" fill="#707070" text-anchor="end">0</text>
<text x="164.8" y="437.5" font-size="3.4" fill="#707070" text-anchor="end">500</text>
<text x="164.8" y="427.1" font-size="3.4" fill="#707070" text-anchor="end">1000</text>
<text x="164.8" y="416.7" font-size="3.4" fill="#707070" text-anchor="end">1500</text>
<text x="164.8" y="406.3" font-size="3.4" fill="#707070" text-anchor="end">2000</text>
<rect x="238.5" y="405.2" width="55.5" height="41.6" fill="none" stroke="#a8a8a8" stroke-width="0.8"/>
<path d="M257.4,440.6 H293.4 M257.4,438.6 V442.6 M293.4,438.6 V442.6" stroke="#8a96a0" stroke-width="0.7" fill="none"/>
<path d="M238.7,440 C239.17,439.17 240.53,436.75 241.5,435 C242.47,433.25 243.38,431.1 244.5,429.5 C245.62,427.9 247.2,425.48 248.2,425.4 C249.2,425.32 249.78,427.23 250.5,429 C251.22,430.77 251.92,433.75 252.5,436 C253.08,438.25 253.5,440.69 254,442.5 C254.5,444.31 255.25,446.12 255.5,446.85" fill="none" stroke="#111" stroke-width="1.7" stroke-linejoin="round"/>
<path d="M238.7,444 C239.08,443.83 240.2,443.67 241,443 C241.8,442.33 242.75,441.17 243.5,440 C244.25,438.83 244.92,437.33 245.5,436 C246.08,434.67 246.52,433.58 247,432 C247.48,430.42 247.97,428.33 248.4,426.5 C248.83,424.67 249.2,422.83 249.6,421 C250,419.17 250.38,417.25 250.8,415.5 C251.22,413.75 251.67,411.67 252.1,410.5 C252.53,409.33 252.98,408.42 253.4,408.5 C253.82,408.58 254.2,409.67 254.6,411 C255,412.33 255.4,414.17 255.8,416.5 C256.2,418.83 256.6,421.75 257,425 C257.4,428.25 257.82,433 258.2,436 C258.58,439 258.92,441.33 259.3,443 C259.68,444.67 260.05,445.36 260.5,446 C260.95,446.64 256.45,446.71 262,446.85 C267.55,446.99 288.5,446.85 293.8,446.85" fill="none" stroke="#e01c24" stroke-width="1.5" stroke-linejoin="round"/>
<path d="M238.5,405.2 V446.8 H294" fill="none" stroke="#1a1a1a" stroke-width="1.3"/>
<text x="285.5" y="438.3" font-size="10" font-weight="bold" text-anchor="end">10</text>
<text x="238" y="452.4" font-size="3.4" fill="#707070" text-anchor="middle">10<tspan font-size="2.2" dy="-1.2">0</tspan></text>
<text x="251.88" y="452.4" font-size="3.4" fill="#707070" text-anchor="middle">10<tspan font-size="2.2" dy="-1.2">1</tspan></text>
<text x="265.75" y="452.4" font-size="3.4" fill="#707070" text-anchor="middle">10<tspan font-size="2.2" dy="-1.2">2</tspan></text>
<text x="279.62" y="452.4" font-size="3.4" fill="#707070" text-anchor="middle">10<tspan font-size="2.2" dy="-1.2">3</tspan></text>
<text x="293.5" y="452.4" font-size="3.4" fill="#707070" text-anchor="middle">10<tspan font-size="2.2" dy="-1.2">4</tspan></text>
<text x="237" y="447.9" font-size="3.4" fill="#707070" text-anchor="end">0</text>
<text x="237" y="437.5" font-size="3.4" fill="#707070" text-anchor="end">500</text>
<text x="237" y="427.1" font-size="3.4" fill="#707070" text-anchor="end">1000</text>
<text x="237" y="416.7" font-size="3.4" fill="#707070" text-anchor="end">1500</text>
<text x="237" y="406.3" font-size="3.4" fill="#707070" text-anchor="end">2000</text>
<rect x="308.3" y="405.2" width="55.7" height="41.6" fill="none" stroke="#a8a8a8" stroke-width="0.8"/>
<path d="M327.7,440.6 H363.4 M327.7,438.6 V442.6 M363.4,438.6 V442.6" stroke="#8a96a0" stroke-width="0.7" fill="none"/>
<path d="M308.7,441 C309.17,439.92 310.53,436.58 311.5,434.5 C312.47,432.42 313.28,430.4 314.5,428.5 C315.72,426.6 317.8,423.35 318.8,423.1 C319.8,422.85 320,425.18 320.5,427 C321,428.82 321.38,431.67 321.8,434 C322.22,436.33 322.63,438.86 323,441 C323.37,443.14 323.83,445.88 324,446.85" fill="none" stroke="#111" stroke-width="1.7" stroke-linejoin="round"/>
<path d="M308.7,446.85 C308.92,446.41 309.62,445.34 310,444.2 C310.38,443.06 310.67,440.2 311,440 C311.33,439.8 311.67,442.83 312,443 C312.33,443.17 312.7,442.08 313,441 C313.3,439.92 313.5,436.58 313.8,436.5 C314.1,436.42 314.47,440.42 314.8,440.5 C315.13,440.58 315.5,438.25 315.8,437 C316.1,435.75 316.32,433.08 316.6,433 C316.88,432.92 317.22,436.92 317.5,436.5 C317.78,436.08 318,430.42 318.3,430.5 C318.6,430.58 318.97,436.75 319.3,437 C319.63,437.25 319.98,433.37 320.3,432 C320.62,430.63 320.88,428.72 321.2,428.8 C321.52,428.88 321.87,432.13 322.2,432.5 C322.53,432.87 322.9,431.58 323.2,431 C323.5,430.42 323.73,428.5 324,429 C324.27,429.5 324.53,432.17 324.8,434 C325.07,435.83 325.33,438.08 325.6,440 C325.87,441.92 326.08,444.36 326.4,445.5 C326.72,446.64 327.07,446.62 327.5,446.85 C327.93,447.08 328.5,446.85 329,446.85 C329.5,446.85 329.83,447.03 330.5,446.85 C331.17,446.68 332.25,445.8 333,445.8 C333.75,445.8 329.87,446.68 335,446.85 C340.13,447.03 359,446.85 363.8,446.85" fill="none" stroke="#e01c24" stroke-width="1.5" stroke-linejoin="round"/>
<path d="M308.3,405.2 V446.8 H364" fill="none" stroke="#1a1a1a" stroke-width="1.3"/>
<text x="355.9" y="438.3" font-size="10" font-weight="bold" text-anchor="end">5.8</text>
<text x="307.8" y="452.4" font-size="3.4" fill="#707070" text-anchor="middle">10<tspan font-size="2.2" dy="-1.2">0</tspan></text>
<text x="321.73" y="452.4" font-size="3.4" fill="#707070" text-anchor="middle">10<tspan font-size="2.2" dy="-1.2">1</tspan></text>
<text x="335.65" y="452.4" font-size="3.4" fill="#707070" text-anchor="middle">10<tspan font-size="2.2" dy="-1.2">2</tspan></text>
<text x="349.57" y="452.4" font-size="3.4" fill="#707070" text-anchor="middle">10<tspan font-size="2.2" dy="-1.2">3</tspan></text>
<text x="363.5" y="452.4" font-size="3.4" fill="#707070" text-anchor="middle">10<tspan font-size="2.2" dy="-1.2">4</tspan></text>
<text x="306.8" y="447.9" font-size="3.4" fill="#707070" text-anchor="end">0</text>
<text x="306.8" y="437.5" font-size="3.4" fill="#707070" text-anchor="end">500</text>
<text x="306.8" y="427.1" font-size="3.4" fill="#707070" text-anchor="end">1000</text>
<text x="306.8" y="416.7" font-size="3.4" fill="#707070" text-anchor="end">1500</text>
<text x="306.8" y="406.3" font-size="3.4" fill="#707070" text-anchor="end">2000</text>
<path d="M99.2,468.53 V467.96" stroke="#000" stroke-width="1"/>
<rect x="95.2" y="468.53" width="8" height="36.47" fill="#ffffff" stroke="#000" stroke-width="1"/>
<path d="M110,469.28 V468.68" stroke="#000" stroke-width="1"/>
<rect x="105.5" y="469.28" width="9" height="35.72" fill="#e02830" stroke="#000" stroke-width="1"/>
<path d="M121.65,468.53 V468.15" stroke="#000" stroke-width="1"/>
<rect x="117.3" y="468.53" width="8.7" height="36.47" fill="#ffff00" stroke="#000" stroke-width="1"/>
<path d="M133,468.53 V468.15" stroke="#000" stroke-width="1"/>
<rect x="128.4" y="468.53" width="9.2" height="36.47" fill="#48dc58" stroke="#000" stroke-width="1"/>
<path d="M144.4,470.22 V467.4" stroke="#000" stroke-width="1"/>
<rect x="140" y="470.22" width="8.8" height="34.78" fill="#0c0c88" stroke="#000" stroke-width="1"/>
<rect x="93.6" y="458" width="56.8" height="47" fill="none" stroke="#000" stroke-width="1.3"/>
<text x="92.1" y="506.8" font-size="6" text-anchor="end" fill="#111">0</text>
<text x="92.1" y="497.4" font-size="6" text-anchor="end" fill="#111">25</text>
<text x="92.1" y="488" font-size="6" text-anchor="end" fill="#111">50</text>
<text x="92.1" y="478.6" font-size="6" text-anchor="end" fill="#111">75</text>
<text x="92.1" y="469.2" font-size="6" text-anchor="end" fill="#111">100</text>
<text x="92.1" y="459.8" font-size="6" text-anchor="end" fill="#111">125</text>
<path d="M170.1,500.68 V499.55" stroke="#000" stroke-width="1"/>
<rect x="165.6" y="500.68" width="9" height="4.32" fill="#ffffff" stroke="#000" stroke-width="1"/>
<path d="M181.95,500.49 V500.3" stroke="#000" stroke-width="1"/>
<rect x="177.4" y="500.49" width="9.1" height="4.51" fill="#e02830" stroke="#000" stroke-width="1"/>
<path d="M192.95,485.07 V475.67" stroke="#000" stroke-width="1"/>
<rect x="188.5" y="485.07" width="8.9" height="19.93" fill="#ffff00" stroke="#000" stroke-width="1"/>
<path d="M204.85,477.93 V471.16" stroke="#000" stroke-width="1"/>
<rect x="200.5" y="477.93" width="8.7" height="27.07" fill="#48dc58" stroke="#000" stroke-width="1"/>
<path d="M216.4,503.68 V503.12" stroke="#000" stroke-width="1"/>
<rect x="211.8" y="503.68" width="9.2" height="1.32" fill="#0c0c88" stroke="#000" stroke-width="1"/>
<rect x="164.6" y="458" width="56.9" height="47" fill="none" stroke="#000" stroke-width="1.3"/>
<text x="163.1" y="506.8" font-size="6" text-anchor="end" fill="#111">0</text>
<text x="163.1" y="497.4" font-size="6" text-anchor="end" fill="#111">25</text>
<text x="163.1" y="488" font-size="6" text-anchor="end" fill="#111">50</text>
<text x="163.1" y="478.6" font-size="6" text-anchor="end" fill="#111">75</text>
<text x="163.1" y="469.2" font-size="6" text-anchor="end" fill="#111">100</text>
<text x="163.1" y="459.8" font-size="6" text-anchor="end" fill="#111">125</text>
<path d="M170.8,494.5 V465.6 H194.3" fill="none" stroke="#000" stroke-width="0.9"/>
<text x="181.5" y="466.1" font-size="8" font-weight="bold" text-anchor="middle">*</text>
<path d="M182.3,496 V473 H193.4 V474.6" fill="none" stroke="#000" stroke-width="0.9"/>
<text x="187.5" y="473.5" font-size="8" font-weight="bold" text-anchor="middle">*</text>
<path d="M242.75,492.97 V484.32" stroke="#000" stroke-width="1"/>
<rect x="238.2" y="492.97" width="9.1" height="12.03" fill="#ffffff" stroke="#000" stroke-width="1"/>
<path d="M252.75,475.67 V471.16" stroke="#000" stroke-width="1"/>
<rect x="248.2" y="475.67" width="9.1" height="29.33" fill="#e02830" stroke="#000" stroke-width="1"/>
<path d="M264.6,473.04 V469.28" stroke="#000" stroke-width="1"/>
<rect x="260" y="473.04" width="9.2" height="31.96" fill="#ffff00" stroke="#000" stroke-width="1"/>
<path d="M276,500.68 V497.1" stroke="#000" stroke-width="1"/>
<rect x="271.6" y="500.68" width="8.8" height="4.32" fill="#48dc58" stroke="#000" stroke-width="1"/>
<path d="M287.8,502.56 V500.86" stroke="#000" stroke-width="1"/>
<rect x="283.2" y="502.56" width="9.2" height="2.44" fill="#0c0c88" stroke="#000" stroke-width="1"/>
<rect x="235.6" y="458" width="57.9" height="47" fill="none" stroke="#000" stroke-width="1.3"/>
<text x="234.1" y="506.8" font-size="6" text-anchor="end" fill="#111">0</text>
<text x="234.1" y="497.4" font-size="6" text-anchor="end" fill="#111">25</text>
<text x="234.1" y="488" font-size="6" text-anchor="end" fill="#111">50</text>
<text x="234.1" y="478.6" font-size="6" text-anchor="end" fill="#111">75</text>
<text x="234.1" y="469.2" font-size="6" text-anchor="end" fill="#111">100</text>
<text x="234.1" y="459.8" font-size="6" text-anchor="end" fill="#111">125</text>
<path d="M242.6,483 V464.6 H264.6 V469" fill="none" stroke="#000" stroke-width="0.9"/>
<text x="254.2" y="465.1" font-size="8" font-weight="bold" text-anchor="middle">**</text>
<path d="M268.4,464.6 H277.3 V493.8" fill="none" stroke="#000" stroke-width="0.9"/>
<text x="272.9" y="465.1" font-size="8" font-weight="bold" text-anchor="middle">***</text>
<path d="M270.2,470.5 H288 V500" fill="none" stroke="#000" stroke-width="0.9"/>
<text x="283.2" y="471.3" font-size="8" font-weight="bold" text-anchor="middle">***</text>
<path d="M315.1,495.6 V492.59" stroke="#000" stroke-width="1"/>
<rect x="310.6" y="495.6" width="9" height="9.4" fill="#ffffff" stroke="#000" stroke-width="1"/>
<path d="M326.85,495.22 V492.22" stroke="#000" stroke-width="1"/>
<rect x="322.2" y="495.22" width="9.3" height="9.78" fill="#e02830" stroke="#000" stroke-width="1"/>
<path d="M338.25,486.95 V482.82" stroke="#000" stroke-width="1"/>
<rect x="333.8" y="486.95" width="8.9" height="18.05" fill="#ffff00" stroke="#000" stroke-width="1"/>
<path d="M350.1,501.8 V500.11" stroke="#000" stroke-width="1"/>
<rect x="345.5" y="501.8" width="9.2" height="3.2" fill="#48dc58" stroke="#000" stroke-width="1"/>
<path d="M361.7,502.18 V500.86" stroke="#000" stroke-width="1"/>
<rect x="357" y="502.18" width="9.4" height="2.82" fill="#0c0c88" stroke="#000" stroke-width="1"/>
<rect x="309.4" y="458" width="57.9" height="47" fill="none" stroke="#000" stroke-width="1.3"/>
<text x="307.9" y="506.8" font-size="6" text-anchor="end" fill="#111">0</text>
<text x="307.9" y="497.4" font-size="6" text-anchor="end" fill="#111">25</text>
<text x="307.9" y="488" font-size="6" text-anchor="end" fill="#111">50</text>
<text x="307.9" y="478.6" font-size="6" text-anchor="end" fill="#111">75</text>
<text x="307.9" y="469.2" font-size="6" text-anchor="end" fill="#111">100</text>
<text x="307.9" y="459.8" font-size="6" text-anchor="end" fill="#111">125</text>
<path d="M315.1,491.5 V479.2 H326.6 V491" fill="none" stroke="#000" stroke-width="0.9"/>
<text x="321.2" y="479.7" font-size="8" font-weight="bold" text-anchor="middle">**</text>
<path d="M326.6,478.2 H337.8 V481.5" fill="none" stroke="#000" stroke-width="0.9"/>
<text x="331.6" y="476.7" font-size="8" font-weight="bold" text-anchor="middle">*</text>
<path d="M340.8,477.7 H350.1 V494.6" fill="none" stroke="#000" stroke-width="0.9"/>
<text x="344.2" y="476.7" font-size="8" font-weight="bold" text-anchor="middle">***</text>
<path d="M344.6,480.3 H361.7 V496.2" fill="none" stroke="#000" stroke-width="0.9"/>
<text x="356.5" y="481" font-size="8" font-weight="bold" text-anchor="middle">***</text>
<text transform="translate(63.2,478.7) rotate(-90)" font-size="9.8" font-weight="bold" text-anchor="middle">% of positive</text>
<text transform="translate(75.0,478.2) rotate(-90)" font-size="9.8" font-weight="bold" text-anchor="middle">cells</text>
<rect x="378.6" y="460.1" width="6.2" height="5" fill="#ffffff" stroke="#000" stroke-width="1"/>
<text x="389.2" y="466.3" font-size="8.6" fill="#111">Inflammatory monocytes</text>
<rect x="378.6" y="470.6" width="6.2" height="5" fill="#cc1010" stroke="#000" stroke-width="1"/>
<text x="389.2" y="476.9" font-size="8.6" fill="#111">Resident monocytes</text>
<rect x="378.6" y="481.3" width="6.2" height="5" fill="#ffff00" stroke="#000" stroke-width="1"/>
<text x="389.2" y="487.4" font-size="8.6" fill="#111">DC-10</text>
<rect x="378.6" y="490.4" width="6.2" height="5" fill="#22dd22" stroke="#000" stroke-width="1"/>
<text x="389.2" y="497.2" font-size="8.6" fill="#111">Myeloid DC</text>
<rect x="378.6" y="501.8" width="6.2" height="5" fill="#000066" stroke="#000" stroke-width="1"/>
<text x="389.2" y="509.2" font-size="8.6" fill="#111">Plasmacytoid DC</text></svg>
</body></html>
